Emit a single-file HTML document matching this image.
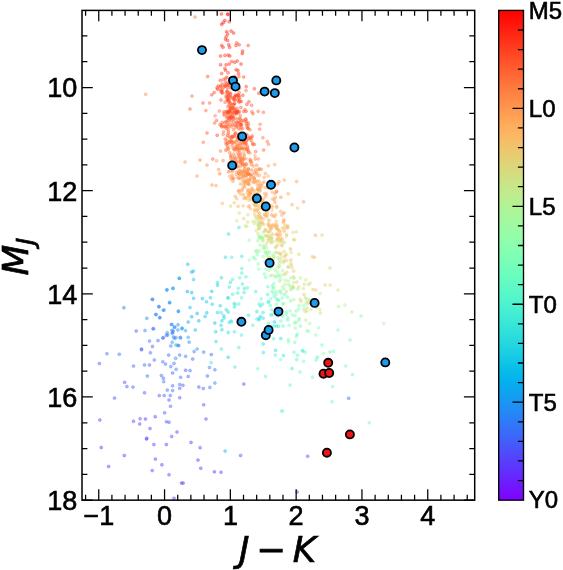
<!DOCTYPE html>
<html lang="en"><head><meta charset="utf-8"><title>MJ vs J-K colour-magnitude diagram</title>
<style>html,body{margin:0;padding:0;background:#fff;}svg{display:block;}text{font-family:"Liberation Sans",Arial,Helvetica,sans-serif;fill:#000;stroke:#000;stroke-width:0.6px;}.dv text{font-family:"DejaVu Sans","Liberation Sans",sans-serif;stroke-width:0.7px;}</style></head><body>
<svg width="563" height="570" viewBox="0 0 563 570">
<rect width="563" height="570" fill="#fff"/>
<defs><linearGradient id="cb" x1="0" y1="0" x2="0" y2="1"><stop offset="0.000" stop-color="#ff0000"/><stop offset="0.020" stop-color="#ff1008"/><stop offset="0.040" stop-color="#ff2010"/><stop offset="0.060" stop-color="#ff3018"/><stop offset="0.080" stop-color="#ff3f20"/><stop offset="0.100" stop-color="#ff4f28"/><stop offset="0.120" stop-color="#ff5e30"/><stop offset="0.140" stop-color="#ff6d38"/><stop offset="0.160" stop-color="#ff7b3f"/><stop offset="0.180" stop-color="#ff8947"/><stop offset="0.200" stop-color="#ff964f"/><stop offset="0.220" stop-color="#ffa356"/><stop offset="0.240" stop-color="#ffaf5e"/><stop offset="0.260" stop-color="#faba65"/><stop offset="0.280" stop-color="#f0c46d"/><stop offset="0.300" stop-color="#e5ce74"/><stop offset="0.320" stop-color="#dbd77b"/><stop offset="0.340" stop-color="#d1df82"/><stop offset="0.360" stop-color="#c7e789"/><stop offset="0.380" stop-color="#bded8f"/><stop offset="0.400" stop-color="#b2f396"/><stop offset="0.420" stop-color="#a8f79c"/><stop offset="0.440" stop-color="#9efaa3"/><stop offset="0.460" stop-color="#94fda9"/><stop offset="0.480" stop-color="#8afeaf"/><stop offset="0.500" stop-color="#80ffb4"/><stop offset="0.520" stop-color="#75feba"/><stop offset="0.540" stop-color="#6bfdbf"/><stop offset="0.560" stop-color="#61fac4"/><stop offset="0.580" stop-color="#57f7c9"/><stop offset="0.600" stop-color="#4df3ce"/><stop offset="0.620" stop-color="#42edd3"/><stop offset="0.640" stop-color="#38e7d7"/><stop offset="0.660" stop-color="#2edfdb"/><stop offset="0.680" stop-color="#24d7df"/><stop offset="0.700" stop-color="#1acee3"/><stop offset="0.720" stop-color="#0fc4e7"/><stop offset="0.740" stop-color="#05baea"/><stop offset="0.760" stop-color="#05afed"/><stop offset="0.780" stop-color="#0fa3f0"/><stop offset="0.800" stop-color="#1a96f3"/><stop offset="0.820" stop-color="#2489f5"/><stop offset="0.840" stop-color="#2e7bf7"/><stop offset="0.860" stop-color="#386df9"/><stop offset="0.880" stop-color="#425efa"/><stop offset="0.900" stop-color="#4d4ffc"/><stop offset="0.920" stop-color="#573ffd"/><stop offset="0.940" stop-color="#6130fe"/><stop offset="0.960" stop-color="#6b20fe"/><stop offset="0.980" stop-color="#7510ff"/><stop offset="1.000" stop-color="#8000ff"/></linearGradient>
<filter id="soft" x="-5%" y="-5%" width="110%" height="110%"><feGaussianBlur stdDeviation="0.55"/></filter>
<clipPath id="ax"><rect x="82.0" y="10.4" width="392.7" height="489.75"/></clipPath></defs>
<g clip-path="url(#ax)"><g filter="url(#soft)" fill-opacity="0.42" stroke-opacity="0.42" stroke-width="0.7">
<circle cx="232.5" cy="116.9" r="1.5" fill="#ff4020" stroke="#ff4020"/>
<circle cx="235.1" cy="133.4" r="1.5" fill="#ff5229" stroke="#ff5229"/>
<circle cx="280.9" cy="197.2" r="1.5" fill="#ff8c49" stroke="#ff8c49"/>
<circle cx="217.5" cy="282.6" r="1.5" fill="#26d9de" stroke="#26d9de"/>
<circle cx="293.7" cy="282.5" r="1.5" fill="#cce385" stroke="#cce385"/>
<circle cx="222.3" cy="89.7" r="1.5" fill="#ff4a25" stroke="#ff4a25"/>
<circle cx="183.1" cy="483.1" r="1.5" fill="#622dfe" stroke="#622dfe"/>
<circle cx="258.8" cy="223.8" r="1.5" fill="#fbb965" stroke="#fbb965"/>
<circle cx="268.2" cy="219.4" r="1.5" fill="#dad97c" stroke="#dad97c"/>
<circle cx="225.5" cy="78.4" r="1.5" fill="#ff5129" stroke="#ff5129"/>
<circle cx="280.8" cy="338.5" r="1.5" fill="#29dbde" stroke="#29dbde"/>
<circle cx="259.7" cy="237.8" r="1.5" fill="#b0f498" stroke="#b0f498"/>
<circle cx="245.2" cy="225.8" r="1.5" fill="#c7e789" stroke="#c7e789"/>
<circle cx="228.1" cy="98.5" r="1.5" fill="#ff4824" stroke="#ff4824"/>
<circle cx="243.7" cy="142.4" r="1.5" fill="#ff8143" stroke="#ff8143"/>
<circle cx="238.2" cy="138.1" r="1.5" fill="#ff542b" stroke="#ff542b"/>
<circle cx="236.7" cy="220.8" r="1.5" fill="#c6e889" stroke="#c6e889"/>
<circle cx="169.0" cy="422.2" r="1.5" fill="#4c50fc" stroke="#4c50fc"/>
<circle cx="248.1" cy="128.4" r="1.5" fill="#ff4d27" stroke="#ff4d27"/>
<circle cx="232.9" cy="158.1" r="1.5" fill="#ff7c40" stroke="#ff7c40"/>
<circle cx="272.0" cy="210.5" r="1.5" fill="#e9cb72" stroke="#e9cb72"/>
<circle cx="218.6" cy="169.6" r="1.5" fill="#ff8b48" stroke="#ff8b48"/>
<circle cx="244.1" cy="292.4" r="1.5" fill="#39e7d7" stroke="#39e7d7"/>
<circle cx="222.3" cy="83.7" r="1.5" fill="#ff5f30" stroke="#ff5f30"/>
<circle cx="252.3" cy="135.9" r="1.5" fill="#ff542b" stroke="#ff542b"/>
<circle cx="163.3" cy="337.7" r="1.5" fill="#366ff9" stroke="#366ff9"/>
<circle cx="242.9" cy="180.9" r="1.5" fill="#ff9b52" stroke="#ff9b52"/>
<circle cx="265.2" cy="229.6" r="1.5" fill="#faba65" stroke="#faba65"/>
<circle cx="262.5" cy="202.8" r="1.5" fill="#ffa859" stroke="#ffa859"/>
<circle cx="277.0" cy="299.2" r="1.5" fill="#48f0d1" stroke="#48f0d1"/>
<circle cx="260.6" cy="217.2" r="1.5" fill="#f1c36c" stroke="#f1c36c"/>
<circle cx="345.0" cy="305.0" r="1.5" fill="#b2f396" stroke="#b2f396"/>
<circle cx="185.5" cy="330.6" r="1.5" fill="#1799f2" stroke="#1799f2"/>
<circle cx="163.4" cy="378.2" r="1.5" fill="#4757fb" stroke="#4757fb"/>
<circle cx="254.4" cy="144.4" r="1.5" fill="#ff4f28" stroke="#ff4f28"/>
<circle cx="242.6" cy="165.0" r="1.5" fill="#ff6735" stroke="#ff6735"/>
<circle cx="234.4" cy="331.8" r="1.5" fill="#3be8d6" stroke="#3be8d6"/>
<circle cx="259.7" cy="129.1" r="1.5" fill="#ff5f30" stroke="#ff5f30"/>
<circle cx="231.0" cy="140.5" r="1.5" fill="#ff6f39" stroke="#ff6f39"/>
<circle cx="251.9" cy="111.7" r="1.5" fill="#ff562c" stroke="#ff562c"/>
<circle cx="234.4" cy="97.1" r="1.5" fill="#ff3b1e" stroke="#ff3b1e"/>
<circle cx="251.8" cy="188.3" r="1.5" fill="#ffa457" stroke="#ffa457"/>
<circle cx="288.4" cy="339.5" r="1.5" fill="#7dffb5" stroke="#7dffb5"/>
<circle cx="265.3" cy="235.8" r="1.5" fill="#cde385" stroke="#cde385"/>
<circle cx="280.7" cy="211.5" r="1.5" fill="#ff9c52" stroke="#ff9c52"/>
<circle cx="288.1" cy="267.1" r="1.5" fill="#f0c46c" stroke="#f0c46c"/>
<circle cx="263.4" cy="112.3" r="1.5" fill="#ff6333" stroke="#ff6333"/>
<circle cx="195.3" cy="330.0" r="1.5" fill="#02b7eb" stroke="#02b7eb"/>
<circle cx="275.3" cy="227.1" r="1.5" fill="#f4c069" stroke="#f4c069"/>
<circle cx="232.4" cy="145.6" r="1.5" fill="#ff6a36" stroke="#ff6a36"/>
<circle cx="267.7" cy="294.6" r="1.5" fill="#49f1d0" stroke="#49f1d0"/>
<circle cx="305.0" cy="311.3" r="1.5" fill="#e1d277" stroke="#e1d277"/>
<circle cx="307.5" cy="303.7" r="1.5" fill="#9cfba4" stroke="#9cfba4"/>
<circle cx="255.9" cy="218.3" r="1.5" fill="#c5e88a" stroke="#c5e88a"/>
<circle cx="259.5" cy="238.1" r="1.5" fill="#85ffb2" stroke="#85ffb2"/>
<circle cx="237.3" cy="125.6" r="1.5" fill="#ff5c2f" stroke="#ff5c2f"/>
<circle cx="214.6" cy="123.0" r="1.5" fill="#ff6031" stroke="#ff6031"/>
<circle cx="225.0" cy="102.2" r="1.5" fill="#ff6935" stroke="#ff6935"/>
<circle cx="248.4" cy="206.5" r="1.5" fill="#ffac5c" stroke="#ffac5c"/>
<circle cx="262.6" cy="200.2" r="1.5" fill="#ffa357" stroke="#ffa357"/>
<circle cx="263.1" cy="232.2" r="1.5" fill="#b5f194" stroke="#b5f194"/>
<circle cx="206.0" cy="419.0" r="1.5" fill="#4f4bfc" stroke="#4f4bfc"/>
<circle cx="303.5" cy="201.8" r="1.5" fill="#ff904b" stroke="#ff904b"/>
<circle cx="232.1" cy="117.0" r="1.5" fill="#ff6232" stroke="#ff6232"/>
<circle cx="332.0" cy="401.8" r="1.5" fill="#61fac4" stroke="#61fac4"/>
<circle cx="207.4" cy="375.9" r="1.5" fill="#3a6af9" stroke="#3a6af9"/>
<circle cx="167.8" cy="335.0" r="1.5" fill="#238af5" stroke="#238af5"/>
<circle cx="257.6" cy="181.0" r="1.5" fill="#ffa558" stroke="#ffa558"/>
<circle cx="259.6" cy="215.8" r="1.5" fill="#d7db7e" stroke="#d7db7e"/>
<circle cx="239.7" cy="148.4" r="1.5" fill="#ff8e4a" stroke="#ff8e4a"/>
<circle cx="174.9" cy="327.0" r="1.5" fill="#1c93f3" stroke="#1c93f3"/>
<circle cx="248.5" cy="172.9" r="1.5" fill="#ff8e4a" stroke="#ff8e4a"/>
<circle cx="281.8" cy="215.1" r="1.5" fill="#ffa558" stroke="#ffa558"/>
<circle cx="162.8" cy="337.9" r="1.5" fill="#3c67fa" stroke="#3c67fa"/>
<circle cx="259.2" cy="236.9" r="1.5" fill="#90feab" stroke="#90feab"/>
<circle cx="248.1" cy="128.2" r="1.5" fill="#ff6f39" stroke="#ff6f39"/>
<circle cx="263.6" cy="150.1" r="1.5" fill="#ff6232" stroke="#ff6232"/>
<circle cx="240.5" cy="183.9" r="1.5" fill="#ff9850" stroke="#ff9850"/>
<circle cx="294.0" cy="352.3" r="1.5" fill="#64fbc3" stroke="#64fbc3"/>
<circle cx="237.7" cy="292.9" r="1.5" fill="#3dead5" stroke="#3dead5"/>
<circle cx="229.1" cy="105.2" r="1.5" fill="#ff6433" stroke="#ff6433"/>
<circle cx="185.6" cy="370.2" r="1.5" fill="#4e4dfc" stroke="#4e4dfc"/>
<circle cx="232.8" cy="104.3" r="1.5" fill="#ff6031" stroke="#ff6031"/>
<circle cx="169.0" cy="400.0" r="1.5" fill="#4b51fc" stroke="#4b51fc"/>
<circle cx="247.3" cy="192.5" r="1.5" fill="#ffa759" stroke="#ffa759"/>
<circle cx="280.7" cy="238.3" r="1.5" fill="#fbb964" stroke="#fbb964"/>
<circle cx="242.3" cy="162.2" r="1.5" fill="#ff763d" stroke="#ff763d"/>
<circle cx="260.5" cy="187.2" r="1.5" fill="#ff954e" stroke="#ff954e"/>
<circle cx="242.1" cy="176.5" r="1.5" fill="#ff9850" stroke="#ff9850"/>
<circle cx="263.0" cy="256.6" r="1.5" fill="#9afca5" stroke="#9afca5"/>
<circle cx="227.6" cy="146.2" r="1.5" fill="#ff713a" stroke="#ff713a"/>
<circle cx="244.0" cy="148.6" r="1.5" fill="#ff753c" stroke="#ff753c"/>
<circle cx="144.5" cy="364.9" r="1.5" fill="#3d66fa" stroke="#3d66fa"/>
<circle cx="223.4" cy="22.4" r="1.5" fill="#ff170b" stroke="#ff170b"/>
<circle cx="246.2" cy="144.2" r="1.5" fill="#ff904c" stroke="#ff904c"/>
<circle cx="248.0" cy="169.8" r="1.5" fill="#ff934d" stroke="#ff934d"/>
<circle cx="159.8" cy="317.7" r="1.5" fill="#238af5" stroke="#238af5"/>
<circle cx="352.4" cy="374.5" r="1.5" fill="#66fcc2" stroke="#66fcc2"/>
<circle cx="369.3" cy="422.7" r="1.5" fill="#6bfdbf" stroke="#6bfdbf"/>
<circle cx="231.7" cy="321.7" r="1.5" fill="#3be9d6" stroke="#3be9d6"/>
<circle cx="247.9" cy="190.6" r="1.5" fill="#ffb05f" stroke="#ffb05f"/>
<circle cx="241.9" cy="163.4" r="1.5" fill="#ff6131" stroke="#ff6131"/>
<circle cx="233.7" cy="99.5" r="1.5" fill="#ff4121" stroke="#ff4121"/>
<circle cx="240.0" cy="152.9" r="1.5" fill="#ff793e" stroke="#ff793e"/>
<circle cx="238.4" cy="190.7" r="1.5" fill="#ff8a48" stroke="#ff8a48"/>
<circle cx="286.2" cy="314.2" r="1.5" fill="#6ffebd" stroke="#6ffebd"/>
<circle cx="241.9" cy="148.6" r="1.5" fill="#ff8646" stroke="#ff8646"/>
<circle cx="239.7" cy="170.5" r="1.5" fill="#ff713a" stroke="#ff713a"/>
<circle cx="254.8" cy="210.8" r="1.5" fill="#ffb160" stroke="#ffb160"/>
<circle cx="270.3" cy="275.7" r="1.5" fill="#a6f89e" stroke="#a6f89e"/>
<circle cx="311.9" cy="299.9" r="1.5" fill="#cfe183" stroke="#cfe183"/>
<circle cx="290.0" cy="385.0" r="1.5" fill="#61fac4" stroke="#61fac4"/>
<circle cx="269.8" cy="332.2" r="1.5" fill="#2edfdc" stroke="#2edfdc"/>
<circle cx="228.2" cy="133.5" r="1.5" fill="#ff6232" stroke="#ff6232"/>
<circle cx="231.1" cy="80.1" r="1.5" fill="#ff2b15" stroke="#ff2b15"/>
<circle cx="238.4" cy="155.1" r="1.5" fill="#ff562c" stroke="#ff562c"/>
<circle cx="255.0" cy="155.7" r="1.5" fill="#ffa156" stroke="#ffa156"/>
<circle cx="286.8" cy="272.3" r="1.5" fill="#e1d277" stroke="#e1d277"/>
<circle cx="290.8" cy="263.8" r="1.5" fill="#eec66e" stroke="#eec66e"/>
<circle cx="198.0" cy="460.1" r="1.5" fill="#6629fe" stroke="#6629fe"/>
<circle cx="228.0" cy="85.2" r="1.5" fill="#ff5b2e" stroke="#ff5b2e"/>
<circle cx="233.5" cy="129.6" r="1.5" fill="#ff6232" stroke="#ff6232"/>
<circle cx="259.1" cy="303.9" r="1.5" fill="#48f0d0" stroke="#48f0d0"/>
<circle cx="238.8" cy="303.9" r="1.5" fill="#4af1cf" stroke="#4af1cf"/>
<circle cx="221.4" cy="348.9" r="1.5" fill="#38e7d7" stroke="#38e7d7"/>
<circle cx="280.6" cy="359.5" r="1.5" fill="#6bfdbf" stroke="#6bfdbf"/>
<circle cx="232.2" cy="142.0" r="1.5" fill="#ff7f42" stroke="#ff7f42"/>
<circle cx="246.9" cy="172.4" r="1.5" fill="#ff8a48" stroke="#ff8a48"/>
<circle cx="269.0" cy="184.6" r="1.5" fill="#ff924c" stroke="#ff924c"/>
<circle cx="244.3" cy="164.2" r="1.5" fill="#ff8746" stroke="#ff8746"/>
<circle cx="236.4" cy="146.6" r="1.5" fill="#ff7d41" stroke="#ff7d41"/>
<circle cx="292.0" cy="368.5" r="1.5" fill="#39e7d7" stroke="#39e7d7"/>
<circle cx="224.6" cy="85.5" r="1.5" fill="#ff592d" stroke="#ff592d"/>
<circle cx="237.1" cy="144.7" r="1.5" fill="#ff733b" stroke="#ff733b"/>
<circle cx="279.2" cy="263.5" r="1.5" fill="#b3f296" stroke="#b3f296"/>
<circle cx="166.9" cy="289.7" r="1.5" fill="#2587f5" stroke="#2587f5"/>
<circle cx="241.4" cy="158.9" r="1.5" fill="#ff7f42" stroke="#ff7f42"/>
<circle cx="236.3" cy="122.5" r="1.5" fill="#ff4222" stroke="#ff4222"/>
<circle cx="229.5" cy="142.7" r="1.5" fill="#ff6131" stroke="#ff6131"/>
<circle cx="290.5" cy="248.9" r="1.5" fill="#ffa457" stroke="#ffa457"/>
<circle cx="332.6" cy="386.5" r="1.5" fill="#66fcc2" stroke="#66fcc2"/>
<circle cx="279.5" cy="230.5" r="1.5" fill="#feb562" stroke="#feb562"/>
<circle cx="266.0" cy="269.2" r="1.5" fill="#83ffb2" stroke="#83ffb2"/>
<circle cx="230.5" cy="164.9" r="1.5" fill="#ff713a" stroke="#ff713a"/>
<circle cx="246.7" cy="140.8" r="1.5" fill="#ff4422" stroke="#ff4422"/>
<circle cx="234.4" cy="150.0" r="1.5" fill="#ff6634" stroke="#ff6634"/>
<circle cx="282.2" cy="245.7" r="1.5" fill="#fab965" stroke="#fab965"/>
<circle cx="259.3" cy="225.0" r="1.5" fill="#d3de81" stroke="#d3de81"/>
<circle cx="206.5" cy="301.8" r="1.5" fill="#0cc1e8" stroke="#0cc1e8"/>
<circle cx="234.7" cy="112.0" r="1.5" fill="#ff6d38" stroke="#ff6d38"/>
<circle cx="223.2" cy="134.3" r="1.5" fill="#ff6d38" stroke="#ff6d38"/>
<circle cx="272.3" cy="207.2" r="1.5" fill="#ffa156" stroke="#ffa156"/>
<circle cx="226.1" cy="96.1" r="1.5" fill="#ff4b26" stroke="#ff4b26"/>
<circle cx="298.9" cy="254.2" r="1.5" fill="#e5cf74" stroke="#e5cf74"/>
<circle cx="202.4" cy="298.6" r="1.5" fill="#06bbea" stroke="#06bbea"/>
<circle cx="235.0" cy="96.6" r="1.5" fill="#ff3d1f" stroke="#ff3d1f"/>
<circle cx="233.3" cy="112.6" r="1.5" fill="#ff4121" stroke="#ff4121"/>
<circle cx="124.3" cy="455.5" r="1.5" fill="#652afe" stroke="#652afe"/>
<circle cx="124.6" cy="382.3" r="1.5" fill="#5247fc" stroke="#5247fc"/>
<circle cx="252.7" cy="197.9" r="1.5" fill="#ff9951" stroke="#ff9951"/>
<circle cx="250.6" cy="161.8" r="1.5" fill="#ff7f42" stroke="#ff7f42"/>
<circle cx="243.8" cy="171.5" r="1.5" fill="#ff8143" stroke="#ff8143"/>
<circle cx="239.2" cy="92.5" r="1.5" fill="#ff4d27" stroke="#ff4d27"/>
<circle cx="269.1" cy="270.3" r="1.5" fill="#9cfba4" stroke="#9cfba4"/>
<circle cx="260.1" cy="245.2" r="1.5" fill="#a9f79c" stroke="#a9f79c"/>
<circle cx="239.3" cy="111.6" r="1.5" fill="#ff4623" stroke="#ff4623"/>
<circle cx="288.2" cy="266.7" r="1.5" fill="#bbee90" stroke="#bbee90"/>
<circle cx="230.8" cy="156.8" r="1.5" fill="#ff793f" stroke="#ff793f"/>
<circle cx="257.0" cy="193.8" r="1.5" fill="#ffa658" stroke="#ffa658"/>
<circle cx="119.3" cy="354.2" r="1.5" fill="#3a6af9" stroke="#3a6af9"/>
<circle cx="306.7" cy="311.1" r="1.5" fill="#d1e082" stroke="#d1e082"/>
<circle cx="287.9" cy="227.8" r="1.5" fill="#faba65" stroke="#faba65"/>
<circle cx="259.4" cy="236.6" r="1.5" fill="#a3f9a0" stroke="#a3f9a0"/>
<circle cx="310.2" cy="282.9" r="1.5" fill="#b6f193" stroke="#b6f193"/>
<circle cx="265.8" cy="216.2" r="1.5" fill="#ffa156" stroke="#ffa156"/>
<circle cx="243.5" cy="173.2" r="1.5" fill="#ff904b" stroke="#ff904b"/>
<circle cx="281.5" cy="411.0" r="1.5" fill="#66fcc2" stroke="#66fcc2"/>
<circle cx="259.3" cy="169.0" r="1.5" fill="#ff8847" stroke="#ff8847"/>
<circle cx="290.1" cy="310.9" r="1.5" fill="#85ffb1" stroke="#85ffb1"/>
<circle cx="240.6" cy="160.6" r="1.5" fill="#ff793e" stroke="#ff793e"/>
<circle cx="247.8" cy="135.9" r="1.5" fill="#ff6c37" stroke="#ff6c37"/>
<circle cx="167.1" cy="332.7" r="1.5" fill="#2a80f6" stroke="#2a80f6"/>
<circle cx="284.1" cy="231.1" r="1.5" fill="#ffa156" stroke="#ffa156"/>
<circle cx="244.3" cy="288.5" r="1.5" fill="#39e7d7" stroke="#39e7d7"/>
<circle cx="292.6" cy="287.0" r="1.5" fill="#bded8f" stroke="#bded8f"/>
<circle cx="181.5" cy="483.1" r="1.5" fill="#652afe" stroke="#652afe"/>
<circle cx="251.0" cy="194.7" r="1.5" fill="#f8bc67" stroke="#f8bc67"/>
<circle cx="243.1" cy="205.8" r="1.5" fill="#f8bb66" stroke="#f8bb66"/>
<circle cx="277.3" cy="233.9" r="1.5" fill="#ffb462" stroke="#ffb462"/>
<circle cx="293.6" cy="287.7" r="1.5" fill="#dbd77b" stroke="#dbd77b"/>
<circle cx="305.2" cy="352.2" r="1.5" fill="#68fcc1" stroke="#68fcc1"/>
<circle cx="296.1" cy="311.0" r="1.5" fill="#7affb7" stroke="#7affb7"/>
<circle cx="161.9" cy="464.8" r="1.5" fill="#6529fe" stroke="#6529fe"/>
<circle cx="274.6" cy="326.0" r="1.5" fill="#41edd3" stroke="#41edd3"/>
<circle cx="286.8" cy="260.5" r="1.5" fill="#ecc86f" stroke="#ecc86f"/>
<circle cx="245.5" cy="144.2" r="1.5" fill="#ff8143" stroke="#ff8143"/>
<circle cx="234.8" cy="100.2" r="1.5" fill="#ff351b" stroke="#ff351b"/>
<circle cx="236.6" cy="126.0" r="1.5" fill="#ff5a2e" stroke="#ff5a2e"/>
<circle cx="234.2" cy="115.4" r="1.5" fill="#ff6634" stroke="#ff6634"/>
<circle cx="216.5" cy="160.7" r="1.5" fill="#ff974f" stroke="#ff974f"/>
<circle cx="228.0" cy="72.8" r="1.5" fill="#ff3f20" stroke="#ff3f20"/>
<circle cx="246.5" cy="164.3" r="1.5" fill="#ff6b37" stroke="#ff6b37"/>
<circle cx="219.8" cy="173.7" r="1.5" fill="#ff733b" stroke="#ff733b"/>
<circle cx="178.8" cy="345.6" r="1.5" fill="#2e7bf7" stroke="#2e7bf7"/>
<circle cx="207.0" cy="165.0" r="1.5" fill="#ff8947" stroke="#ff8947"/>
<circle cx="170.5" cy="406.3" r="1.5" fill="#445cfb" stroke="#445cfb"/>
<circle cx="276.0" cy="291.7" r="1.5" fill="#81ffb4" stroke="#81ffb4"/>
<circle cx="230.7" cy="104.1" r="1.5" fill="#ff4d27" stroke="#ff4d27"/>
<circle cx="243.1" cy="159.2" r="1.5" fill="#ff8a48" stroke="#ff8a48"/>
<circle cx="264.6" cy="214.5" r="1.5" fill="#ff8a48" stroke="#ff8a48"/>
<circle cx="229.4" cy="136.8" r="1.5" fill="#ff8e4a" stroke="#ff8e4a"/>
<circle cx="226.4" cy="97.7" r="1.5" fill="#ff5c2f" stroke="#ff5c2f"/>
<circle cx="320.2" cy="293.4" r="1.5" fill="#c4e98b" stroke="#c4e98b"/>
<circle cx="256.4" cy="173.7" r="1.5" fill="#ffa256" stroke="#ffa256"/>
<circle cx="236.5" cy="86.7" r="1.5" fill="#ff3a1d" stroke="#ff3a1d"/>
<circle cx="258.8" cy="93.2" r="1.5" fill="#ff4623" stroke="#ff4623"/>
<circle cx="269.3" cy="220.8" r="1.5" fill="#f7bd67" stroke="#f7bd67"/>
<circle cx="239.0" cy="136.2" r="1.5" fill="#ff4b26" stroke="#ff4b26"/>
<circle cx="292.2" cy="314.8" r="1.5" fill="#83ffb3" stroke="#83ffb3"/>
<circle cx="152.7" cy="299.5" r="1.5" fill="#3571f8" stroke="#3571f8"/>
<circle cx="270.5" cy="237.0" r="1.5" fill="#e5cf74" stroke="#e5cf74"/>
<circle cx="269.7" cy="227.5" r="1.5" fill="#ffaf5e" stroke="#ffaf5e"/>
<circle cx="250.5" cy="192.7" r="1.5" fill="#ffa95b" stroke="#ffa95b"/>
<circle cx="257.2" cy="254.6" r="1.5" fill="#77ffb9" stroke="#77ffb9"/>
<circle cx="278.3" cy="274.9" r="1.5" fill="#94fda9" stroke="#94fda9"/>
<circle cx="224.8" cy="122.7" r="1.5" fill="#ff552b" stroke="#ff552b"/>
<circle cx="276.0" cy="276.7" r="1.5" fill="#83ffb2" stroke="#83ffb2"/>
<circle cx="260.6" cy="202.2" r="1.5" fill="#ff944e" stroke="#ff944e"/>
<circle cx="211.8" cy="94.8" r="1.5" fill="#ff4121" stroke="#ff4121"/>
<circle cx="281.3" cy="293.6" r="1.5" fill="#8ffeab" stroke="#8ffeab"/>
<circle cx="173.1" cy="288.3" r="1.5" fill="#1898f2" stroke="#1898f2"/>
<circle cx="232.8" cy="81.5" r="1.5" fill="#ff391d" stroke="#ff391d"/>
<circle cx="245.7" cy="119.6" r="1.5" fill="#ff5b2e" stroke="#ff5b2e"/>
<circle cx="226.3" cy="309.7" r="1.5" fill="#1fd3e1" stroke="#1fd3e1"/>
<circle cx="221.7" cy="45.4" r="1.5" fill="#ff2512" stroke="#ff2512"/>
<circle cx="228.1" cy="93.7" r="1.5" fill="#ff381c" stroke="#ff381c"/>
<circle cx="224.0" cy="113.7" r="1.5" fill="#ff592d" stroke="#ff592d"/>
<circle cx="190.0" cy="109.0" r="1.5" fill="#ff5e30" stroke="#ff5e30"/>
<circle cx="264.8" cy="261.5" r="1.5" fill="#97fca7" stroke="#97fca7"/>
<circle cx="262.3" cy="222.5" r="1.5" fill="#f7bd68" stroke="#f7bd68"/>
<circle cx="338.0" cy="330.0" r="1.5" fill="#80ffb4" stroke="#80ffb4"/>
<circle cx="164.6" cy="412.8" r="1.5" fill="#445bfb" stroke="#445bfb"/>
<circle cx="276.0" cy="247.1" r="1.5" fill="#d9d97d" stroke="#d9d97d"/>
<circle cx="350.0" cy="340.0" r="1.5" fill="#75feba" stroke="#75feba"/>
<circle cx="238.8" cy="128.6" r="1.5" fill="#ff4e28" stroke="#ff4e28"/>
<circle cx="106.9" cy="353.7" r="1.5" fill="#3d66fa" stroke="#3d66fa"/>
<circle cx="307.7" cy="456.2" r="1.5" fill="#5149fc" stroke="#5149fc"/>
<circle cx="226.5" cy="84.1" r="1.5" fill="#ff4d27" stroke="#ff4d27"/>
<circle cx="250.5" cy="199.1" r="1.5" fill="#ffa256" stroke="#ffa256"/>
<circle cx="250.0" cy="191.5" r="1.5" fill="#ff9d53" stroke="#ff9d53"/>
<circle cx="260.0" cy="199.2" r="1.5" fill="#ff934d" stroke="#ff934d"/>
<circle cx="310.7" cy="300.3" r="1.5" fill="#cee284" stroke="#cee284"/>
<circle cx="245.9" cy="164.1" r="1.5" fill="#ff8545" stroke="#ff8545"/>
<circle cx="228.2" cy="332.4" r="1.5" fill="#27dade" stroke="#27dade"/>
<circle cx="294.0" cy="278.3" r="1.5" fill="#95fda8" stroke="#95fda8"/>
<circle cx="262.0" cy="237.5" r="1.5" fill="#b2f396" stroke="#b2f396"/>
<circle cx="227.1" cy="140.5" r="1.5" fill="#ff6f39" stroke="#ff6f39"/>
<circle cx="168.7" cy="355.1" r="1.5" fill="#3e64fa" stroke="#3e64fa"/>
<circle cx="276.5" cy="234.6" r="1.5" fill="#ffa95b" stroke="#ffa95b"/>
<circle cx="278.5" cy="300.0" r="1.5" fill="#75feba" stroke="#75feba"/>
<circle cx="238.1" cy="206.3" r="1.5" fill="#ffae5d" stroke="#ffae5d"/>
<circle cx="254.4" cy="214.1" r="1.5" fill="#dfd478" stroke="#dfd478"/>
<circle cx="265.6" cy="230.2" r="1.5" fill="#ebc970" stroke="#ebc970"/>
<circle cx="237.3" cy="61.0" r="1.5" fill="#ff2d17" stroke="#ff2d17"/>
<circle cx="286.7" cy="227.9" r="1.5" fill="#f0c46c" stroke="#f0c46c"/>
<circle cx="236.2" cy="162.3" r="1.5" fill="#ff7f41" stroke="#ff7f41"/>
<circle cx="288.2" cy="193.8" r="1.5" fill="#ffa256" stroke="#ffa256"/>
<circle cx="241.3" cy="147.8" r="1.5" fill="#ff7d41" stroke="#ff7d41"/>
<circle cx="234.8" cy="76.7" r="1.5" fill="#ff341a" stroke="#ff341a"/>
<circle cx="288.3" cy="281.0" r="1.5" fill="#8efeac" stroke="#8efeac"/>
<circle cx="230.7" cy="206.1" r="1.5" fill="#e6cd73" stroke="#e6cd73"/>
<circle cx="237.5" cy="147.9" r="1.5" fill="#ff6c38" stroke="#ff6c38"/>
<circle cx="247.4" cy="127.9" r="1.5" fill="#ff6f39" stroke="#ff6f39"/>
<circle cx="246.5" cy="149.5" r="1.5" fill="#ff7c40" stroke="#ff7c40"/>
<circle cx="271.8" cy="238.1" r="1.5" fill="#e0d478" stroke="#e0d478"/>
<circle cx="228.5" cy="126.7" r="1.5" fill="#ff6f39" stroke="#ff6f39"/>
<circle cx="330.1" cy="285.1" r="1.5" fill="#d8da7d" stroke="#d8da7d"/>
<circle cx="288.5" cy="341.7" r="1.5" fill="#74feba" stroke="#74feba"/>
<circle cx="257.9" cy="208.9" r="1.5" fill="#edc86f" stroke="#edc86f"/>
<circle cx="243.3" cy="164.5" r="1.5" fill="#ff7a3f" stroke="#ff7a3f"/>
<circle cx="133.5" cy="421.3" r="1.5" fill="#5a3bfd" stroke="#5a3bfd"/>
<circle cx="234.5" cy="98.9" r="1.5" fill="#ff6232" stroke="#ff6232"/>
<circle cx="322.0" cy="345.0" r="1.5" fill="#70febd" stroke="#70febd"/>
<circle cx="244.0" cy="198.2" r="1.5" fill="#ff9d53" stroke="#ff9d53"/>
<circle cx="271.1" cy="238.2" r="1.5" fill="#d9d97d" stroke="#d9d97d"/>
<circle cx="269.3" cy="235.8" r="1.5" fill="#d0e183" stroke="#d0e183"/>
<circle cx="245.7" cy="198.2" r="1.5" fill="#f7bd67" stroke="#f7bd67"/>
<circle cx="236.0" cy="45.4" r="1.5" fill="#ff2c16" stroke="#ff2c16"/>
<circle cx="249.4" cy="174.3" r="1.5" fill="#ff8e4a" stroke="#ff8e4a"/>
<circle cx="257.5" cy="209.5" r="1.5" fill="#fbb964" stroke="#fbb964"/>
<circle cx="284.0" cy="251.4" r="1.5" fill="#e8cc72" stroke="#e8cc72"/>
<circle cx="217.5" cy="312.5" r="1.5" fill="#1bd0e3" stroke="#1bd0e3"/>
<circle cx="145.4" cy="419.0" r="1.5" fill="#6629fe" stroke="#6629fe"/>
<circle cx="234.9" cy="134.7" r="1.5" fill="#ff6835" stroke="#ff6835"/>
<circle cx="209.9" cy="387.4" r="1.5" fill="#3b68f9" stroke="#3b68f9"/>
<circle cx="273.7" cy="338.8" r="1.5" fill="#4cf2cf" stroke="#4cf2cf"/>
<circle cx="263.1" cy="239.9" r="1.5" fill="#c5e88a" stroke="#c5e88a"/>
<circle cx="233.2" cy="148.4" r="1.5" fill="#ff6534" stroke="#ff6534"/>
<circle cx="267.4" cy="203.1" r="1.5" fill="#ffb05f" stroke="#ffb05f"/>
<circle cx="256.2" cy="230.8" r="1.5" fill="#cde285" stroke="#cde285"/>
<circle cx="325.2" cy="284.9" r="1.5" fill="#e9cb72" stroke="#e9cb72"/>
<circle cx="159.3" cy="395.6" r="1.5" fill="#4757fb" stroke="#4757fb"/>
<circle cx="237.8" cy="100.0" r="1.5" fill="#ff4724" stroke="#ff4724"/>
<circle cx="283.8" cy="303.6" r="1.5" fill="#6cfdbf" stroke="#6cfdbf"/>
<circle cx="226.2" cy="121.4" r="1.5" fill="#ff4221" stroke="#ff4221"/>
<circle cx="153.9" cy="444.5" r="1.5" fill="#5e35fe" stroke="#5e35fe"/>
<circle cx="271.7" cy="326.2" r="1.5" fill="#3be9d6" stroke="#3be9d6"/>
<circle cx="309.1" cy="300.1" r="1.5" fill="#c8e688" stroke="#c8e688"/>
<circle cx="221.9" cy="320.8" r="1.5" fill="#15cae5" stroke="#15cae5"/>
<circle cx="244.7" cy="169.8" r="1.5" fill="#ff8646" stroke="#ff8646"/>
<circle cx="278.4" cy="235.3" r="1.5" fill="#ffa658" stroke="#ffa658"/>
<circle cx="270.6" cy="229.0" r="1.5" fill="#f1c36c" stroke="#f1c36c"/>
<circle cx="290.8" cy="277.7" r="1.5" fill="#b7f093" stroke="#b7f093"/>
<circle cx="189.1" cy="342.1" r="1.5" fill="#2883f6" stroke="#2883f6"/>
<circle cx="179.7" cy="397.7" r="1.5" fill="#5246fd" stroke="#5246fd"/>
<circle cx="230.2" cy="118.7" r="1.5" fill="#ff5e30" stroke="#ff5e30"/>
<circle cx="218.2" cy="86.0" r="1.5" fill="#ff3e1f" stroke="#ff3e1f"/>
<circle cx="244.1" cy="158.7" r="1.5" fill="#ff8042" stroke="#ff8042"/>
<circle cx="243.6" cy="194.7" r="1.5" fill="#ff9b52" stroke="#ff9b52"/>
<circle cx="241.8" cy="256.3" r="1.5" fill="#36e5d8" stroke="#36e5d8"/>
<circle cx="255.5" cy="205.9" r="1.5" fill="#ffb15f" stroke="#ffb15f"/>
<circle cx="308.5" cy="331.4" r="1.5" fill="#9afca5" stroke="#9afca5"/>
<circle cx="223.6" cy="131.6" r="1.5" fill="#ff763d" stroke="#ff763d"/>
<circle cx="313.0" cy="289.6" r="1.5" fill="#eec66e" stroke="#eec66e"/>
<circle cx="251.0" cy="138.1" r="1.5" fill="#ff522a" stroke="#ff522a"/>
<circle cx="300.0" cy="372.0" r="1.5" fill="#66fcc2" stroke="#66fcc2"/>
<circle cx="150.0" cy="428.5" r="1.5" fill="#593bfd" stroke="#593bfd"/>
<circle cx="249.0" cy="200.3" r="1.5" fill="#ffb361" stroke="#ffb361"/>
<circle cx="315.9" cy="334.9" r="1.5" fill="#93fda9" stroke="#93fda9"/>
<circle cx="223.5" cy="79.5" r="1.5" fill="#ff4423" stroke="#ff4423"/>
<circle cx="257.0" cy="196.3" r="1.5" fill="#ffaf5e" stroke="#ffaf5e"/>
<circle cx="236.9" cy="119.0" r="1.5" fill="#ff4d27" stroke="#ff4d27"/>
<circle cx="235.8" cy="113.0" r="1.5" fill="#ff6c37" stroke="#ff6c37"/>
<circle cx="235.3" cy="304.6" r="1.5" fill="#44eed2" stroke="#44eed2"/>
<circle cx="333.5" cy="351.3" r="1.5" fill="#6efebe" stroke="#6efebe"/>
<circle cx="177.9" cy="329.9" r="1.5" fill="#1a95f3" stroke="#1a95f3"/>
<circle cx="291.0" cy="288.9" r="1.5" fill="#a6f89e" stroke="#a6f89e"/>
<circle cx="260.6" cy="207.9" r="1.5" fill="#f5c069" stroke="#f5c069"/>
<circle cx="230.8" cy="113.9" r="1.5" fill="#ff6031" stroke="#ff6031"/>
<circle cx="260.6" cy="305.9" r="1.5" fill="#33e3da" stroke="#33e3da"/>
<circle cx="236.7" cy="42.9" r="1.5" fill="#ff391d" stroke="#ff391d"/>
<circle cx="243.6" cy="184.3" r="1.5" fill="#ffae5d" stroke="#ffae5d"/>
<circle cx="258.0" cy="193.0" r="1.5" fill="#f5bf68" stroke="#f5bf68"/>
<circle cx="270.2" cy="305.4" r="1.5" fill="#52f5cc" stroke="#52f5cc"/>
<circle cx="172.6" cy="385.8" r="1.5" fill="#455afb" stroke="#455afb"/>
<circle cx="253.0" cy="113.7" r="1.5" fill="#ff5a2e" stroke="#ff5a2e"/>
<circle cx="265.8" cy="277.3" r="1.5" fill="#6efdbe" stroke="#6efdbe"/>
<circle cx="234.2" cy="81.7" r="1.5" fill="#ff532a" stroke="#ff532a"/>
<circle cx="293.6" cy="239.6" r="1.5" fill="#dad87c" stroke="#dad87c"/>
<circle cx="277.1" cy="224.8" r="1.5" fill="#f9bb66" stroke="#f9bb66"/>
<circle cx="207.0" cy="133.0" r="1.5" fill="#ff5e30" stroke="#ff5e30"/>
<circle cx="279.3" cy="281.2" r="1.5" fill="#99fca6" stroke="#99fca6"/>
<circle cx="239.6" cy="136.5" r="1.5" fill="#ff7d41" stroke="#ff7d41"/>
<circle cx="271.4" cy="238.1" r="1.5" fill="#cde385" stroke="#cde385"/>
<circle cx="249.3" cy="196.3" r="1.5" fill="#ffa155" stroke="#ffa155"/>
<circle cx="167.3" cy="390.1" r="1.5" fill="#3f62fa" stroke="#3f62fa"/>
<circle cx="211.3" cy="354.6" r="1.5" fill="#415ffa" stroke="#415ffa"/>
<circle cx="243.5" cy="121.0" r="1.5" fill="#ff6433" stroke="#ff6433"/>
<circle cx="278.8" cy="242.1" r="1.5" fill="#bcee90" stroke="#bcee90"/>
<circle cx="230.1" cy="117.9" r="1.5" fill="#ff5b2e" stroke="#ff5b2e"/>
<circle cx="295.0" cy="315.4" r="1.5" fill="#7effb5" stroke="#7effb5"/>
<circle cx="234.3" cy="163.4" r="1.5" fill="#ff8a48" stroke="#ff8a48"/>
<circle cx="234.7" cy="156.4" r="1.5" fill="#ff743c" stroke="#ff743c"/>
<circle cx="226.6" cy="126.2" r="1.5" fill="#ff582d" stroke="#ff582d"/>
<circle cx="241.0" cy="64.1" r="1.5" fill="#ff2c16" stroke="#ff2c16"/>
<circle cx="248.9" cy="101.8" r="1.5" fill="#ff4121" stroke="#ff4121"/>
<circle cx="221.9" cy="329.7" r="1.5" fill="#1dd2e2" stroke="#1dd2e2"/>
<circle cx="163.7" cy="381.7" r="1.5" fill="#3078f7" stroke="#3078f7"/>
<circle cx="234.4" cy="104.0" r="1.5" fill="#ff6835" stroke="#ff6835"/>
<circle cx="229.4" cy="286.9" r="1.5" fill="#37e6d8" stroke="#37e6d8"/>
<circle cx="224.9" cy="55.4" r="1.5" fill="#ff351b" stroke="#ff351b"/>
<circle cx="225.5" cy="39.2" r="1.5" fill="#ff1b0e" stroke="#ff1b0e"/>
<circle cx="284.5" cy="242.4" r="1.5" fill="#d1e082" stroke="#d1e082"/>
<circle cx="217.2" cy="135.2" r="1.5" fill="#ff3d1e" stroke="#ff3d1e"/>
<circle cx="247.6" cy="174.5" r="1.5" fill="#ff6e38" stroke="#ff6e38"/>
<circle cx="311.0" cy="309.5" r="1.5" fill="#d5dc7f" stroke="#d5dc7f"/>
<circle cx="266.5" cy="193.7" r="1.5" fill="#ffaa5b" stroke="#ffaa5b"/>
<circle cx="255.5" cy="250.9" r="1.5" fill="#a4f99f" stroke="#a4f99f"/>
<circle cx="220.5" cy="151.1" r="1.5" fill="#ff773d" stroke="#ff773d"/>
<circle cx="224.0" cy="111.8" r="1.5" fill="#ff3d1f" stroke="#ff3d1f"/>
<circle cx="229.4" cy="101.6" r="1.5" fill="#ff3f20" stroke="#ff3f20"/>
<circle cx="263.5" cy="224.5" r="1.5" fill="#f5bf69" stroke="#f5bf69"/>
<circle cx="257.3" cy="189.6" r="1.5" fill="#f9bb66" stroke="#f9bb66"/>
<circle cx="235.8" cy="161.2" r="1.5" fill="#ff8847" stroke="#ff8847"/>
<circle cx="246.0" cy="90.5" r="1.5" fill="#ff6634" stroke="#ff6634"/>
<circle cx="302.3" cy="350.6" r="1.5" fill="#55f6ca" stroke="#55f6ca"/>
<circle cx="172.9" cy="288.5" r="1.5" fill="#0ba8ef" stroke="#0ba8ef"/>
<circle cx="228.8" cy="44.8" r="1.5" fill="#ff1a0d" stroke="#ff1a0d"/>
<circle cx="301.1" cy="301.4" r="1.5" fill="#dfd478" stroke="#dfd478"/>
<circle cx="236.2" cy="164.1" r="1.5" fill="#ff7d40" stroke="#ff7d40"/>
<circle cx="136.2" cy="331.0" r="1.5" fill="#4658fb" stroke="#4658fb"/>
<circle cx="228.0" cy="55.1" r="1.5" fill="#ff331a" stroke="#ff331a"/>
<circle cx="290.0" cy="286.0" r="1.5" fill="#a2f9a0" stroke="#a2f9a0"/>
<circle cx="276.9" cy="252.6" r="1.5" fill="#cfe183" stroke="#cfe183"/>
<circle cx="197.0" cy="176.0" r="1.5" fill="#ff964f" stroke="#ff964f"/>
<circle cx="228.2" cy="311.9" r="1.5" fill="#1dd1e2" stroke="#1dd1e2"/>
<circle cx="191.7" cy="272.0" r="1.5" fill="#0ca6ef" stroke="#0ca6ef"/>
<circle cx="249.0" cy="179.2" r="1.5" fill="#ffa256" stroke="#ffa256"/>
<circle cx="114.5" cy="398.1" r="1.5" fill="#5444fd" stroke="#5444fd"/>
<circle cx="247.5" cy="146.3" r="1.5" fill="#ff743c" stroke="#ff743c"/>
<circle cx="220.5" cy="56.0" r="1.5" fill="#ff2a15" stroke="#ff2a15"/>
<circle cx="240.1" cy="119.0" r="1.5" fill="#ff5028" stroke="#ff5028"/>
<circle cx="227.6" cy="14.0" r="1.5" fill="#ff140a" stroke="#ff140a"/>
<circle cx="225.2" cy="139.1" r="1.5" fill="#ff532a" stroke="#ff532a"/>
<circle cx="231.3" cy="140.7" r="1.5" fill="#ff8b48" stroke="#ff8b48"/>
<circle cx="222.4" cy="92.9" r="1.5" fill="#ff1e0f" stroke="#ff1e0f"/>
<circle cx="181.9" cy="328.8" r="1.5" fill="#2785f6" stroke="#2785f6"/>
<circle cx="258.5" cy="218.8" r="1.5" fill="#f0c46c" stroke="#f0c46c"/>
<circle cx="282.2" cy="298.1" r="1.5" fill="#76ffb9" stroke="#76ffb9"/>
<circle cx="234.2" cy="202.8" r="1.5" fill="#e8cc72" stroke="#e8cc72"/>
<circle cx="273.2" cy="259.2" r="1.5" fill="#c3e98b" stroke="#c3e98b"/>
<circle cx="224.9" cy="68.4" r="1.5" fill="#ff3a1d" stroke="#ff3a1d"/>
<circle cx="223.8" cy="126.4" r="1.5" fill="#ff572c" stroke="#ff572c"/>
<circle cx="258.3" cy="216.6" r="1.5" fill="#e8cc72" stroke="#e8cc72"/>
<circle cx="232.5" cy="177.9" r="1.5" fill="#ff924c" stroke="#ff924c"/>
<circle cx="252.9" cy="181.5" r="1.5" fill="#ff944e" stroke="#ff944e"/>
<circle cx="294.6" cy="239.7" r="1.5" fill="#ddd679" stroke="#ddd679"/>
<circle cx="249.1" cy="240.3" r="1.5" fill="#8ffeab" stroke="#8ffeab"/>
<circle cx="179.3" cy="278.4" r="1.5" fill="#04b0ed" stroke="#04b0ed"/>
<circle cx="245.2" cy="180.9" r="1.5" fill="#ff9850" stroke="#ff9850"/>
<circle cx="221.7" cy="24.3" r="1.5" fill="#ff0804" stroke="#ff0804"/>
<circle cx="264.1" cy="210.0" r="1.5" fill="#dfd478" stroke="#dfd478"/>
<circle cx="268.7" cy="301.6" r="1.5" fill="#4af1d0" stroke="#4af1d0"/>
<circle cx="287.8" cy="319.9" r="1.5" fill="#6afdc0" stroke="#6afdc0"/>
<circle cx="247.3" cy="287.8" r="1.5" fill="#46efd1" stroke="#46efd1"/>
<circle cx="230.2" cy="137.4" r="1.5" fill="#ff6d38" stroke="#ff6d38"/>
<circle cx="225.1" cy="451.1" r="1.5" fill="#00b4ec" stroke="#00b4ec"/>
<circle cx="180.6" cy="338.0" r="1.5" fill="#2587f5" stroke="#2587f5"/>
<circle cx="264.6" cy="193.4" r="1.5" fill="#ffa156" stroke="#ffa156"/>
<circle cx="172.6" cy="372.9" r="1.5" fill="#4c50fc" stroke="#4c50fc"/>
<circle cx="241.7" cy="124.6" r="1.5" fill="#ff4b26" stroke="#ff4b26"/>
<circle cx="246.9" cy="104.2" r="1.5" fill="#ff4422" stroke="#ff4422"/>
<circle cx="155.7" cy="314.5" r="1.5" fill="#2c7df7" stroke="#2c7df7"/>
<circle cx="233.0" cy="108.0" r="1.5" fill="#ff5129" stroke="#ff5129"/>
<circle cx="256.3" cy="199.8" r="1.5" fill="#ffa659" stroke="#ffa659"/>
<circle cx="229.8" cy="152.7" r="1.5" fill="#ff723b" stroke="#ff723b"/>
<circle cx="259.6" cy="175.3" r="1.5" fill="#ffb260" stroke="#ffb260"/>
<circle cx="246.9" cy="198.0" r="1.5" fill="#feb663" stroke="#feb663"/>
<circle cx="170.8" cy="346.0" r="1.5" fill="#2f7af7" stroke="#2f7af7"/>
<circle cx="282.2" cy="238.9" r="1.5" fill="#feb662" stroke="#feb662"/>
<circle cx="254.4" cy="179.0" r="1.5" fill="#ff934d" stroke="#ff934d"/>
<circle cx="266.8" cy="242.9" r="1.5" fill="#cfe183" stroke="#cfe183"/>
<circle cx="246.1" cy="111.3" r="1.5" fill="#ff3f20" stroke="#ff3f20"/>
<circle cx="253.6" cy="196.4" r="1.5" fill="#ffa558" stroke="#ffa558"/>
<circle cx="230.7" cy="164.7" r="1.5" fill="#ff6131" stroke="#ff6131"/>
<circle cx="251.1" cy="174.4" r="1.5" fill="#ff8042" stroke="#ff8042"/>
<circle cx="296.4" cy="231.7" r="1.5" fill="#dbd77b" stroke="#dbd77b"/>
<circle cx="239.2" cy="122.6" r="1.5" fill="#ff6734" stroke="#ff6734"/>
<circle cx="263.9" cy="198.3" r="1.5" fill="#ffb15f" stroke="#ffb15f"/>
<circle cx="277.2" cy="245.3" r="1.5" fill="#faba66" stroke="#faba66"/>
<circle cx="248.3" cy="152.1" r="1.5" fill="#ff6f39" stroke="#ff6f39"/>
<circle cx="232.0" cy="107.5" r="1.5" fill="#ff4523" stroke="#ff4523"/>
<circle cx="285.0" cy="284.6" r="1.5" fill="#abf69b" stroke="#abf69b"/>
<circle cx="243.8" cy="384.0" r="1.5" fill="#4d4dfc" stroke="#4d4dfc"/>
<circle cx="383.8" cy="323.6" r="1.5" fill="#b0f498" stroke="#b0f498"/>
<circle cx="258.8" cy="189.7" r="1.5" fill="#ffb260" stroke="#ffb260"/>
<circle cx="288.5" cy="284.2" r="1.5" fill="#aff498" stroke="#aff498"/>
<circle cx="290.9" cy="260.1" r="1.5" fill="#fcb764" stroke="#fcb764"/>
<circle cx="246.0" cy="175.4" r="1.5" fill="#ff9f54" stroke="#ff9f54"/>
<circle cx="238.5" cy="73.4" r="1.5" fill="#ff331a" stroke="#ff331a"/>
<circle cx="192.7" cy="359.0" r="1.5" fill="#425ffa" stroke="#425ffa"/>
<circle cx="254.4" cy="88.7" r="1.5" fill="#ff391d" stroke="#ff391d"/>
<circle cx="274.8" cy="193.3" r="1.5" fill="#ff8f4b" stroke="#ff8f4b"/>
<circle cx="228.4" cy="84.9" r="1.5" fill="#ff361b" stroke="#ff361b"/>
<circle cx="209.5" cy="367.5" r="1.5" fill="#3176f8" stroke="#3176f8"/>
<circle cx="203.7" cy="404.8" r="1.5" fill="#4953fb" stroke="#4953fb"/>
<circle cx="271.9" cy="225.4" r="1.5" fill="#fcb864" stroke="#fcb864"/>
<circle cx="172.2" cy="333.3" r="1.5" fill="#208ef4" stroke="#208ef4"/>
<circle cx="229.0" cy="119.1" r="1.5" fill="#ff6835" stroke="#ff6835"/>
<circle cx="252.8" cy="144.2" r="1.5" fill="#ff783e" stroke="#ff783e"/>
<circle cx="227.9" cy="14.6" r="1.5" fill="#ff1e0f" stroke="#ff1e0f"/>
<circle cx="226.1" cy="64.7" r="1.5" fill="#ff2915" stroke="#ff2915"/>
<circle cx="308.6" cy="284.5" r="1.5" fill="#ded579" stroke="#ded579"/>
<circle cx="303.7" cy="309.0" r="1.5" fill="#95fda8" stroke="#95fda8"/>
<circle cx="152.2" cy="299.2" r="1.5" fill="#2883f6" stroke="#2883f6"/>
<circle cx="188.2" cy="337.3" r="1.5" fill="#06aeed" stroke="#06aeed"/>
<circle cx="261.5" cy="169.3" r="1.5" fill="#ff8746" stroke="#ff8746"/>
<circle cx="126.9" cy="386.5" r="1.5" fill="#4756fb" stroke="#4756fb"/>
<circle cx="228.7" cy="84.2" r="1.5" fill="#ff7e41" stroke="#ff7e41"/>
<circle cx="231.3" cy="178.9" r="1.5" fill="#ff8e4a" stroke="#ff8e4a"/>
<circle cx="264.8" cy="231.2" r="1.5" fill="#cee284" stroke="#cee284"/>
<circle cx="259.0" cy="319.7" r="1.5" fill="#1fd3e1" stroke="#1fd3e1"/>
<circle cx="248.3" cy="184.1" r="1.5" fill="#ff7f42" stroke="#ff7f42"/>
<circle cx="214.9" cy="369.8" r="1.5" fill="#3373f8" stroke="#3373f8"/>
<circle cx="239.9" cy="138.4" r="1.5" fill="#ff5d2f" stroke="#ff5d2f"/>
<circle cx="298.6" cy="286.8" r="1.5" fill="#cae587" stroke="#cae587"/>
<circle cx="315.4" cy="235.3" r="1.5" fill="#ffa458" stroke="#ffa458"/>
<circle cx="273.1" cy="314.4" r="1.5" fill="#53f5cb" stroke="#53f5cb"/>
<circle cx="280.9" cy="321.1" r="1.5" fill="#70febd" stroke="#70febd"/>
<circle cx="238.8" cy="102.1" r="1.5" fill="#ff542b" stroke="#ff542b"/>
<circle cx="217.0" cy="87.9" r="1.5" fill="#ff3119" stroke="#ff3119"/>
<circle cx="268.3" cy="238.4" r="1.5" fill="#ded579" stroke="#ded579"/>
<circle cx="269.5" cy="226.1" r="1.5" fill="#f9bb66" stroke="#f9bb66"/>
<circle cx="141.5" cy="349.8" r="1.5" fill="#455afb" stroke="#455afb"/>
<circle cx="248.3" cy="195.0" r="1.5" fill="#ff9a51" stroke="#ff9a51"/>
<circle cx="261.3" cy="236.7" r="1.5" fill="#baef91" stroke="#baef91"/>
<circle cx="248.7" cy="138.4" r="1.5" fill="#ff6131" stroke="#ff6131"/>
<circle cx="239.1" cy="174.2" r="1.5" fill="#ff763d" stroke="#ff763d"/>
<circle cx="246.1" cy="181.4" r="1.5" fill="#ffad5d" stroke="#ffad5d"/>
<circle cx="185.6" cy="356.3" r="1.5" fill="#3078f7" stroke="#3078f7"/>
<circle cx="298.7" cy="309.1" r="1.5" fill="#89ffaf" stroke="#89ffaf"/>
<circle cx="238.0" cy="94.9" r="1.5" fill="#ff4322" stroke="#ff4322"/>
<circle cx="237.2" cy="95.3" r="1.5" fill="#ff5d2f" stroke="#ff5d2f"/>
<circle cx="280.9" cy="275.4" r="1.5" fill="#8ffeab" stroke="#8ffeab"/>
<circle cx="225.5" cy="70.3" r="1.5" fill="#ff2d16" stroke="#ff2d16"/>
<circle cx="133.0" cy="387.1" r="1.5" fill="#425efb" stroke="#425efb"/>
<circle cx="245.4" cy="183.7" r="1.5" fill="#ff904b" stroke="#ff904b"/>
<circle cx="240.2" cy="101.5" r="1.5" fill="#ff6332" stroke="#ff6332"/>
<circle cx="281.2" cy="244.8" r="1.5" fill="#f0c56d" stroke="#f0c56d"/>
<circle cx="242.5" cy="144.1" r="1.5" fill="#ff5029" stroke="#ff5029"/>
<circle cx="242.6" cy="128.7" r="1.5" fill="#ff6634" stroke="#ff6634"/>
<circle cx="248.3" cy="124.9" r="1.5" fill="#ff5d2f" stroke="#ff5d2f"/>
<circle cx="244.3" cy="182.1" r="1.5" fill="#ff9e54" stroke="#ff9e54"/>
<circle cx="232.9" cy="136.6" r="1.5" fill="#ff6433" stroke="#ff6433"/>
<circle cx="246.2" cy="140.8" r="1.5" fill="#ff793f" stroke="#ff793f"/>
<circle cx="156.2" cy="314.6" r="1.5" fill="#2d7df7" stroke="#2d7df7"/>
<circle cx="322.0" cy="235.0" r="1.5" fill="#e5ce74" stroke="#e5ce74"/>
<circle cx="243.6" cy="186.0" r="1.5" fill="#f9bb66" stroke="#f9bb66"/>
<circle cx="230.9" cy="159.0" r="1.5" fill="#ff8b48" stroke="#ff8b48"/>
<circle cx="299.0" cy="305.4" r="1.5" fill="#82ffb3" stroke="#82ffb3"/>
<circle cx="271.7" cy="215.0" r="1.5" fill="#ff8a48" stroke="#ff8a48"/>
<circle cx="253.6" cy="257.6" r="1.5" fill="#60fac5" stroke="#60fac5"/>
<circle cx="233.4" cy="105.1" r="1.5" fill="#ff5a2e" stroke="#ff5a2e"/>
<circle cx="123.9" cy="307.7" r="1.5" fill="#3c67fa" stroke="#3c67fa"/>
<circle cx="249.3" cy="206.0" r="1.5" fill="#f9bb66" stroke="#f9bb66"/>
<circle cx="99.4" cy="363.6" r="1.5" fill="#4f4bfc" stroke="#4f4bfc"/>
<circle cx="236.8" cy="96.0" r="1.5" fill="#ff5d2f" stroke="#ff5d2f"/>
<circle cx="240.9" cy="124.8" r="1.5" fill="#ff2c16" stroke="#ff2c16"/>
<circle cx="285.4" cy="254.9" r="1.5" fill="#eaca70" stroke="#eaca70"/>
<circle cx="172.6" cy="390.6" r="1.5" fill="#386df9" stroke="#386df9"/>
<circle cx="265.2" cy="252.2" r="1.5" fill="#b1f397" stroke="#b1f397"/>
<circle cx="228.2" cy="357.2" r="1.5" fill="#19cee3" stroke="#19cee3"/>
<circle cx="256.8" cy="250.4" r="1.5" fill="#91feab" stroke="#91feab"/>
<circle cx="194.1" cy="351.5" r="1.5" fill="#3275f8" stroke="#3275f8"/>
<circle cx="200.8" cy="468.2" r="1.5" fill="#5c38fd" stroke="#5c38fd"/>
<circle cx="265.8" cy="196.1" r="1.5" fill="#ff9a51" stroke="#ff9a51"/>
<circle cx="303.8" cy="305.2" r="1.5" fill="#8efeac" stroke="#8efeac"/>
<circle cx="221.2" cy="91.2" r="1.5" fill="#ff4322" stroke="#ff4322"/>
<circle cx="242.3" cy="189.0" r="1.5" fill="#ff914c" stroke="#ff914c"/>
<circle cx="243.6" cy="77.0" r="1.5" fill="#ff4b26" stroke="#ff4b26"/>
<circle cx="235.3" cy="149.4" r="1.5" fill="#ff8444" stroke="#ff8444"/>
<circle cx="260.2" cy="190.8" r="1.5" fill="#ff954e" stroke="#ff954e"/>
<circle cx="240.5" cy="159.8" r="1.5" fill="#ff7039" stroke="#ff7039"/>
<circle cx="266.6" cy="247.6" r="1.5" fill="#b4f295" stroke="#b4f295"/>
<circle cx="166.4" cy="421.7" r="1.5" fill="#4758fb" stroke="#4758fb"/>
<circle cx="296.4" cy="336.3" r="1.5" fill="#6cfdbf" stroke="#6cfdbf"/>
<circle cx="318.6" cy="327.8" r="1.5" fill="#85ffb1" stroke="#85ffb1"/>
<circle cx="252.8" cy="221.5" r="1.5" fill="#cce385" stroke="#cce385"/>
<circle cx="248.3" cy="152.0" r="1.5" fill="#ff7a3f" stroke="#ff7a3f"/>
<circle cx="267.3" cy="212.5" r="1.5" fill="#ff9a51" stroke="#ff9a51"/>
<circle cx="267.1" cy="215.6" r="1.5" fill="#ff9b52" stroke="#ff9b52"/>
<circle cx="245.4" cy="176.1" r="1.5" fill="#ff8746" stroke="#ff8746"/>
<circle cx="234.9" cy="125.3" r="1.5" fill="#ff6935" stroke="#ff6935"/>
<circle cx="250.0" cy="159.6" r="1.5" fill="#ff753c" stroke="#ff753c"/>
<circle cx="285.4" cy="280.2" r="1.5" fill="#b4f295" stroke="#b4f295"/>
<circle cx="278.9" cy="276.5" r="1.5" fill="#97fca7" stroke="#97fca7"/>
<circle cx="236.2" cy="167.3" r="1.5" fill="#ff8947" stroke="#ff8947"/>
<circle cx="220.0" cy="124.5" r="1.5" fill="#ff592d" stroke="#ff592d"/>
<circle cx="238.3" cy="112.8" r="1.5" fill="#ff552b" stroke="#ff552b"/>
<circle cx="232.3" cy="113.6" r="1.5" fill="#ff5029" stroke="#ff5029"/>
<circle cx="242.3" cy="120.4" r="1.5" fill="#ff5a2e" stroke="#ff5a2e"/>
<circle cx="279.4" cy="260.1" r="1.5" fill="#c1eb8d" stroke="#c1eb8d"/>
<circle cx="230.3" cy="282.2" r="1.5" fill="#2adddd" stroke="#2adddd"/>
<circle cx="166.4" cy="444.5" r="1.5" fill="#652afe" stroke="#652afe"/>
<circle cx="212.0" cy="185.0" r="1.5" fill="#ff964f" stroke="#ff964f"/>
<circle cx="264.0" cy="248.2" r="1.5" fill="#90feab" stroke="#90feab"/>
<circle cx="247.9" cy="214.7" r="1.5" fill="#dbd87b" stroke="#dbd87b"/>
<circle cx="239.9" cy="157.5" r="1.5" fill="#ff8243" stroke="#ff8243"/>
<circle cx="267.5" cy="252.1" r="1.5" fill="#a3f9a0" stroke="#a3f9a0"/>
<circle cx="280.9" cy="254.1" r="1.5" fill="#f5bf69" stroke="#f5bf69"/>
<circle cx="252.7" cy="143.4" r="1.5" fill="#ff5029" stroke="#ff5029"/>
<circle cx="166.4" cy="335.3" r="1.5" fill="#3e63fa" stroke="#3e63fa"/>
<circle cx="230.6" cy="78.4" r="1.5" fill="#ff4221" stroke="#ff4221"/>
<circle cx="221.0" cy="100.0" r="1.5" fill="#ff4925" stroke="#ff4925"/>
<circle cx="243.8" cy="111.4" r="1.5" fill="#ff4c26" stroke="#ff4c26"/>
<circle cx="232.3" cy="136.2" r="1.5" fill="#ff7039" stroke="#ff7039"/>
<circle cx="172.2" cy="342.3" r="1.5" fill="#1c92f3" stroke="#1c92f3"/>
<circle cx="234.1" cy="303.5" r="1.5" fill="#32e3da" stroke="#32e3da"/>
<circle cx="246.8" cy="149.5" r="1.5" fill="#ff6433" stroke="#ff6433"/>
<circle cx="239.9" cy="156.7" r="1.5" fill="#ff8b49" stroke="#ff8b49"/>
<circle cx="174.6" cy="338.4" r="1.5" fill="#238af5" stroke="#238af5"/>
<circle cx="275.3" cy="355.1" r="1.5" fill="#4df3ce" stroke="#4df3ce"/>
<circle cx="216.0" cy="185.5" r="1.5" fill="#ff9e54" stroke="#ff9e54"/>
<circle cx="239.7" cy="141.7" r="1.5" fill="#ff6534" stroke="#ff6534"/>
<circle cx="278.2" cy="238.9" r="1.5" fill="#f7bd68" stroke="#f7bd68"/>
<circle cx="254.2" cy="177.8" r="1.5" fill="#ff8445" stroke="#ff8445"/>
<circle cx="235.0" cy="148.3" r="1.5" fill="#ff7f42" stroke="#ff7f42"/>
<circle cx="258.1" cy="225.1" r="1.5" fill="#b9ef92" stroke="#b9ef92"/>
<circle cx="248.2" cy="123.0" r="1.5" fill="#ff5f30" stroke="#ff5f30"/>
<circle cx="240.8" cy="173.0" r="1.5" fill="#ff713a" stroke="#ff713a"/>
<circle cx="231.9" cy="159.7" r="1.5" fill="#ff914c" stroke="#ff914c"/>
<circle cx="236.8" cy="165.6" r="1.5" fill="#ff7c40" stroke="#ff7c40"/>
<circle cx="282.6" cy="228.0" r="1.5" fill="#f4c06a" stroke="#f4c06a"/>
<circle cx="182.1" cy="328.0" r="1.5" fill="#0fa3f0" stroke="#0fa3f0"/>
<circle cx="214.4" cy="471.8" r="1.5" fill="#6629fe" stroke="#6629fe"/>
<circle cx="276.4" cy="304.3" r="1.5" fill="#86ffb1" stroke="#86ffb1"/>
<circle cx="171.7" cy="436.4" r="1.5" fill="#593bfd" stroke="#593bfd"/>
<circle cx="238.6" cy="157.8" r="1.5" fill="#ff8d4a" stroke="#ff8d4a"/>
<circle cx="279.3" cy="266.4" r="1.5" fill="#ecc86f" stroke="#ecc86f"/>
<circle cx="248.5" cy="169.0" r="1.5" fill="#ff7c40" stroke="#ff7c40"/>
<circle cx="274.0" cy="185.8" r="1.5" fill="#ff934d" stroke="#ff934d"/>
<circle cx="159.8" cy="317.6" r="1.5" fill="#2b7ef7" stroke="#2b7ef7"/>
<circle cx="230.7" cy="107.5" r="1.5" fill="#ff4f28" stroke="#ff4f28"/>
<circle cx="263.0" cy="205.4" r="1.5" fill="#ffb05f" stroke="#ffb05f"/>
<circle cx="271.1" cy="268.2" r="1.5" fill="#90feab" stroke="#90feab"/>
<circle cx="238.4" cy="145.5" r="1.5" fill="#ff8e4a" stroke="#ff8e4a"/>
<circle cx="226.7" cy="31.7" r="1.5" fill="#ff160b" stroke="#ff160b"/>
<circle cx="232.6" cy="279.4" r="1.5" fill="#46efd1" stroke="#46efd1"/>
<circle cx="279.2" cy="253.0" r="1.5" fill="#e8cc72" stroke="#e8cc72"/>
<circle cx="242.0" cy="190.8" r="1.5" fill="#ffa356" stroke="#ffa356"/>
<circle cx="255.4" cy="205.1" r="1.5" fill="#e4d075" stroke="#e4d075"/>
<circle cx="221.7" cy="126.9" r="1.5" fill="#ff6d38" stroke="#ff6d38"/>
<circle cx="267.9" cy="286.7" r="1.5" fill="#5ef9c6" stroke="#5ef9c6"/>
<circle cx="247.5" cy="148.0" r="1.5" fill="#ff5f31" stroke="#ff5f31"/>
<circle cx="238.7" cy="98.3" r="1.5" fill="#ff4925" stroke="#ff4925"/>
<circle cx="261.7" cy="207.5" r="1.5" fill="#f0c56d" stroke="#f0c56d"/>
<circle cx="179.7" cy="355.1" r="1.5" fill="#3d66fa" stroke="#3d66fa"/>
<circle cx="300.5" cy="326.0" r="1.5" fill="#6afdc0" stroke="#6afdc0"/>
<circle cx="224.2" cy="115.2" r="1.5" fill="#ff5e30" stroke="#ff5e30"/>
<circle cx="221.6" cy="125.5" r="1.5" fill="#ff371c" stroke="#ff371c"/>
<circle cx="276.6" cy="310.4" r="1.5" fill="#57f7c9" stroke="#57f7c9"/>
<circle cx="256.7" cy="172.5" r="1.5" fill="#ff8947" stroke="#ff8947"/>
<circle cx="252.8" cy="325.2" r="1.5" fill="#4bf2cf" stroke="#4bf2cf"/>
<circle cx="245.4" cy="197.6" r="1.5" fill="#feb562" stroke="#feb562"/>
<circle cx="257.8" cy="368.8" r="1.5" fill="#6bfdbf" stroke="#6bfdbf"/>
<circle cx="250.0" cy="153.1" r="1.5" fill="#ff934d" stroke="#ff934d"/>
<circle cx="281.1" cy="240.9" r="1.5" fill="#ffb461" stroke="#ffb461"/>
<circle cx="267.5" cy="259.8" r="1.5" fill="#96fca7" stroke="#96fca7"/>
<circle cx="154.3" cy="359.9" r="1.5" fill="#3a69f9" stroke="#3a69f9"/>
<circle cx="258.1" cy="263.9" r="1.5" fill="#7fffb4" stroke="#7fffb4"/>
<circle cx="257.5" cy="195.0" r="1.5" fill="#ff9b52" stroke="#ff9b52"/>
<circle cx="222.1" cy="122.5" r="1.5" fill="#ff4925" stroke="#ff4925"/>
<circle cx="214.2" cy="92.5" r="1.5" fill="#ff4422" stroke="#ff4422"/>
<circle cx="273.9" cy="256.7" r="1.5" fill="#cfe183" stroke="#cfe183"/>
<circle cx="280.9" cy="261.6" r="1.5" fill="#b0f498" stroke="#b0f498"/>
<circle cx="188.2" cy="322.0" r="1.5" fill="#0da5ef" stroke="#0da5ef"/>
<circle cx="238.5" cy="148.9" r="1.5" fill="#ff8646" stroke="#ff8646"/>
<circle cx="246.9" cy="126.0" r="1.5" fill="#ff5e30" stroke="#ff5e30"/>
<circle cx="241.5" cy="297.7" r="1.5" fill="#4bf2cf" stroke="#4bf2cf"/>
<circle cx="260.6" cy="316.4" r="1.5" fill="#24d8df" stroke="#24d8df"/>
<circle cx="240.3" cy="163.2" r="1.5" fill="#ff8344" stroke="#ff8344"/>
<circle cx="244.4" cy="142.3" r="1.5" fill="#ff6332" stroke="#ff6332"/>
<circle cx="229.4" cy="84.0" r="1.5" fill="#ff4e27" stroke="#ff4e27"/>
<circle cx="224.9" cy="20.5" r="1.5" fill="#ff160b" stroke="#ff160b"/>
<circle cx="264.2" cy="177.3" r="1.5" fill="#ff9d53" stroke="#ff9d53"/>
<circle cx="274.5" cy="216.6" r="1.5" fill="#ff9d53" stroke="#ff9d53"/>
<circle cx="277.2" cy="271.5" r="1.5" fill="#a5f89e" stroke="#a5f89e"/>
<circle cx="237.5" cy="166.8" r="1.5" fill="#ff954e" stroke="#ff954e"/>
<circle cx="149.5" cy="341.0" r="1.5" fill="#3b69f9" stroke="#3b69f9"/>
<circle cx="242.6" cy="51.0" r="1.5" fill="#ff2d17" stroke="#ff2d17"/>
<circle cx="250.2" cy="193.1" r="1.5" fill="#ffad5d" stroke="#ffad5d"/>
<circle cx="348.6" cy="398.2" r="1.5" fill="#3c67f9" stroke="#3c67f9"/>
<circle cx="243.2" cy="140.6" r="1.5" fill="#ff6b37" stroke="#ff6b37"/>
<circle cx="282.7" cy="315.9" r="1.5" fill="#5af8c8" stroke="#5af8c8"/>
<circle cx="240.2" cy="143.9" r="1.5" fill="#ff7b40" stroke="#ff7b40"/>
<circle cx="261.7" cy="218.1" r="1.5" fill="#ffb05f" stroke="#ffb05f"/>
<circle cx="147.4" cy="376.1" r="1.5" fill="#3a6af9" stroke="#3a6af9"/>
<circle cx="275.9" cy="240.7" r="1.5" fill="#e4cf75" stroke="#e4cf75"/>
<circle cx="263.3" cy="352.4" r="1.5" fill="#2bdedc" stroke="#2bdedc"/>
<circle cx="345.8" cy="366.0" r="1.5" fill="#70febd" stroke="#70febd"/>
<circle cx="294.8" cy="342.3" r="1.5" fill="#68fcc1" stroke="#68fcc1"/>
<circle cx="192.0" cy="96.0" r="1.5" fill="#ff6d38" stroke="#ff6d38"/>
<circle cx="234.4" cy="109.9" r="1.5" fill="#ff6634" stroke="#ff6634"/>
<circle cx="232.8" cy="171.2" r="1.5" fill="#ff8947" stroke="#ff8947"/>
<circle cx="237.4" cy="137.2" r="1.5" fill="#ff6031" stroke="#ff6031"/>
<circle cx="263.1" cy="312.5" r="1.5" fill="#37e6d8" stroke="#37e6d8"/>
<circle cx="273.5" cy="287.2" r="1.5" fill="#93fda9" stroke="#93fda9"/>
<circle cx="237.4" cy="122.6" r="1.5" fill="#ff4a25" stroke="#ff4a25"/>
<circle cx="328.2" cy="362.7" r="1.5" fill="#86ffb0" stroke="#86ffb0"/>
<circle cx="193.5" cy="271.1" r="1.5" fill="#10c5e7" stroke="#10c5e7"/>
<circle cx="220.5" cy="64.7" r="1.5" fill="#ff2714" stroke="#ff2714"/>
<circle cx="197.1" cy="348.9" r="1.5" fill="#1a95f3" stroke="#1a95f3"/>
<circle cx="300.6" cy="278.0" r="1.5" fill="#b2f396" stroke="#b2f396"/>
<circle cx="258.2" cy="225.3" r="1.5" fill="#cde284" stroke="#cde284"/>
<circle cx="272.5" cy="198.9" r="1.5" fill="#ffae5e" stroke="#ffae5e"/>
<circle cx="244.9" cy="171.3" r="1.5" fill="#ff9a51" stroke="#ff9a51"/>
<circle cx="306.9" cy="307.9" r="1.5" fill="#d4dd80" stroke="#d4dd80"/>
<circle cx="226.7" cy="117.2" r="1.5" fill="#ff532a" stroke="#ff532a"/>
<circle cx="300.2" cy="299.5" r="1.5" fill="#d8da7d" stroke="#d8da7d"/>
<circle cx="257.0" cy="252.2" r="1.5" fill="#9dfba3" stroke="#9dfba3"/>
<circle cx="286.8" cy="254.6" r="1.5" fill="#c6e789" stroke="#c6e789"/>
<circle cx="286.6" cy="234.4" r="1.5" fill="#eec66e" stroke="#eec66e"/>
<circle cx="254.9" cy="202.7" r="1.5" fill="#e6cd73" stroke="#e6cd73"/>
<circle cx="228.4" cy="131.8" r="1.5" fill="#ff6e39" stroke="#ff6e39"/>
<circle cx="200.0" cy="160.0" r="1.5" fill="#ff8243" stroke="#ff8243"/>
<circle cx="255.8" cy="216.2" r="1.5" fill="#e9cb71" stroke="#e9cb71"/>
<circle cx="283.9" cy="219.9" r="1.5" fill="#ff9951" stroke="#ff9951"/>
<circle cx="261.5" cy="200.2" r="1.5" fill="#feb662" stroke="#feb662"/>
<circle cx="256.9" cy="311.6" r="1.5" fill="#29dcdd" stroke="#29dcdd"/>
<circle cx="230.4" cy="108.3" r="1.5" fill="#ff4623" stroke="#ff4623"/>
<circle cx="316.3" cy="307.8" r="1.5" fill="#d2df81" stroke="#d2df81"/>
<circle cx="190.0" cy="370.6" r="1.5" fill="#3e65fa" stroke="#3e65fa"/>
<circle cx="259.5" cy="169.1" r="1.5" fill="#ff9950" stroke="#ff9950"/>
<circle cx="284.0" cy="227.9" r="1.5" fill="#edc86f" stroke="#edc86f"/>
<circle cx="250.7" cy="160.2" r="1.5" fill="#ff8c49" stroke="#ff8c49"/>
<circle cx="265.6" cy="203.3" r="1.5" fill="#ffb562" stroke="#ffb562"/>
<circle cx="239.5" cy="88.2" r="1.5" fill="#ff6936" stroke="#ff6936"/>
<circle cx="292.7" cy="286.6" r="1.5" fill="#d1e082" stroke="#d1e082"/>
<circle cx="229.6" cy="47.3" r="1.5" fill="#ff2613" stroke="#ff2613"/>
<circle cx="269.5" cy="258.0" r="1.5" fill="#bced8f" stroke="#bced8f"/>
<circle cx="293.8" cy="299.6" r="1.5" fill="#b9ef92" stroke="#b9ef92"/>
<circle cx="244.6" cy="147.8" r="1.5" fill="#ff7a3f" stroke="#ff7a3f"/>
<circle cx="296.7" cy="181.5" r="1.5" fill="#ff9850" stroke="#ff9850"/>
<circle cx="284.8" cy="256.7" r="1.5" fill="#fcb864" stroke="#fcb864"/>
<circle cx="166.9" cy="290.1" r="1.5" fill="#149cf1" stroke="#149cf1"/>
<circle cx="170.3" cy="395.6" r="1.5" fill="#4658fb" stroke="#4658fb"/>
<circle cx="231.1" cy="120.8" r="1.5" fill="#ff4e28" stroke="#ff4e28"/>
<circle cx="247.9" cy="173.4" r="1.5" fill="#ff6e38" stroke="#ff6e38"/>
<circle cx="220.6" cy="89.7" r="1.5" fill="#ff5029" stroke="#ff5029"/>
<circle cx="269.1" cy="257.3" r="1.5" fill="#c2ea8c" stroke="#c2ea8c"/>
<circle cx="279.6" cy="291.4" r="1.5" fill="#86ffb0" stroke="#86ffb0"/>
<circle cx="284.6" cy="294.4" r="1.5" fill="#65fcc2" stroke="#65fcc2"/>
<circle cx="287.4" cy="297.1" r="1.5" fill="#6bfdbf" stroke="#6bfdbf"/>
<circle cx="180.2" cy="337.3" r="1.5" fill="#2882f6" stroke="#2882f6"/>
<circle cx="276.6" cy="206.3" r="1.5" fill="#ff934d" stroke="#ff934d"/>
<circle cx="228.0" cy="95.7" r="1.5" fill="#ff4322" stroke="#ff4322"/>
<circle cx="280.4" cy="234.1" r="1.5" fill="#e1d277" stroke="#e1d277"/>
<circle cx="221.4" cy="125.9" r="1.5" fill="#ff7b3f" stroke="#ff7b3f"/>
<circle cx="225.8" cy="150.2" r="1.5" fill="#ff6232" stroke="#ff6232"/>
<circle cx="238.7" cy="177.9" r="1.5" fill="#ff944e" stroke="#ff944e"/>
<circle cx="234.2" cy="88.9" r="1.5" fill="#ff532a" stroke="#ff532a"/>
<circle cx="255.2" cy="194.7" r="1.5" fill="#ff8d4a" stroke="#ff8d4a"/>
<circle cx="275.4" cy="252.5" r="1.5" fill="#cae587" stroke="#cae587"/>
<circle cx="234.6" cy="85.6" r="1.5" fill="#ff4724" stroke="#ff4724"/>
<circle cx="255.9" cy="221.6" r="1.5" fill="#c1ea8c" stroke="#c1ea8c"/>
<circle cx="257.8" cy="188.5" r="1.5" fill="#ff8c49" stroke="#ff8c49"/>
<circle cx="179.3" cy="278.2" r="1.5" fill="#159cf1" stroke="#159cf1"/>
<circle cx="315.9" cy="290.0" r="1.5" fill="#ebc970" stroke="#ebc970"/>
<circle cx="252.9" cy="190.1" r="1.5" fill="#ffa357" stroke="#ffa357"/>
<circle cx="230.9" cy="321.1" r="1.5" fill="#34e4d9" stroke="#34e4d9"/>
<circle cx="314.3" cy="257.3" r="1.5" fill="#ffae5d" stroke="#ffae5d"/>
<circle cx="243.8" cy="151.9" r="1.5" fill="#ff9d53" stroke="#ff9d53"/>
<circle cx="248.2" cy="45.4" r="1.5" fill="#ff4422" stroke="#ff4422"/>
<circle cx="217.7" cy="89.2" r="1.5" fill="#ff3e1f" stroke="#ff3e1f"/>
<circle cx="280.3" cy="240.6" r="1.5" fill="#f4c069" stroke="#f4c069"/>
<circle cx="274.4" cy="321.9" r="1.5" fill="#19cee3" stroke="#19cee3"/>
<circle cx="276.2" cy="221.4" r="1.5" fill="#f2c26b" stroke="#f2c26b"/>
<circle cx="244.2" cy="173.8" r="1.5" fill="#ff9d53" stroke="#ff9d53"/>
<circle cx="228.0" cy="106.6" r="1.5" fill="#ff6031" stroke="#ff6031"/>
<circle cx="277.6" cy="316.0" r="1.5" fill="#3eebd5" stroke="#3eebd5"/>
<circle cx="233.7" cy="178.4" r="1.5" fill="#ff783e" stroke="#ff783e"/>
<circle cx="226.3" cy="128.3" r="1.5" fill="#ff592d" stroke="#ff592d"/>
<circle cx="268.5" cy="144.3" r="1.5" fill="#ff7c40" stroke="#ff7c40"/>
<circle cx="234.4" cy="80.3" r="1.5" fill="#ff3f20" stroke="#ff3f20"/>
<circle cx="227.6" cy="40.4" r="1.5" fill="#ff2412" stroke="#ff2412"/>
<circle cx="276.6" cy="326.0" r="1.5" fill="#42edd3" stroke="#42edd3"/>
<circle cx="205.9" cy="110.6" r="1.5" fill="#ff6534" stroke="#ff6534"/>
<circle cx="233.6" cy="98.3" r="1.5" fill="#ff5d2f" stroke="#ff5d2f"/>
<circle cx="261.6" cy="185.5" r="1.5" fill="#ffa055" stroke="#ffa055"/>
<circle cx="231.2" cy="126.8" r="1.5" fill="#ff763d" stroke="#ff763d"/>
<circle cx="172.0" cy="324.6" r="1.5" fill="#2389f5" stroke="#2389f5"/>
<circle cx="268.0" cy="253.5" r="1.5" fill="#9bfba5" stroke="#9bfba5"/>
<circle cx="240.8" cy="107.4" r="1.5" fill="#ff5129" stroke="#ff5129"/>
<circle cx="227.9" cy="117.7" r="1.5" fill="#ff5d2f" stroke="#ff5d2f"/>
<circle cx="268.4" cy="165.8" r="1.5" fill="#ffa357" stroke="#ffa357"/>
<circle cx="233.2" cy="163.1" r="1.5" fill="#ff9750" stroke="#ff9750"/>
<circle cx="316.0" cy="360.0" r="1.5" fill="#66fcc2" stroke="#66fcc2"/>
<circle cx="152.5" cy="346.4" r="1.5" fill="#5149fc" stroke="#5149fc"/>
<circle cx="272.3" cy="242.6" r="1.5" fill="#cde284" stroke="#cde284"/>
<circle cx="246.4" cy="134.3" r="1.5" fill="#ff5d2f" stroke="#ff5d2f"/>
<circle cx="178.4" cy="311.6" r="1.5" fill="#1e90f4" stroke="#1e90f4"/>
<circle cx="246.0" cy="158.7" r="1.5" fill="#ff954e" stroke="#ff954e"/>
<circle cx="250.6" cy="161.3" r="1.5" fill="#ff7b40" stroke="#ff7b40"/>
<circle cx="187.8" cy="264.3" r="1.5" fill="#0bc0e8" stroke="#0bc0e8"/>
<circle cx="283.9" cy="274.1" r="1.5" fill="#c9e587" stroke="#c9e587"/>
<circle cx="266.3" cy="235.7" r="1.5" fill="#f6be68" stroke="#f6be68"/>
<circle cx="239.6" cy="178.3" r="1.5" fill="#ff783e" stroke="#ff783e"/>
<circle cx="241.7" cy="171.3" r="1.5" fill="#ff8b49" stroke="#ff8b49"/>
<circle cx="268.8" cy="231.7" r="1.5" fill="#c6e789" stroke="#c6e789"/>
<circle cx="286.4" cy="236.1" r="1.5" fill="#e6ce74" stroke="#e6ce74"/>
<circle cx="225.1" cy="86.1" r="1.5" fill="#ff2c16" stroke="#ff2c16"/>
<circle cx="234.0" cy="142.3" r="1.5" fill="#ff8344" stroke="#ff8344"/>
<circle cx="230.5" cy="141.2" r="1.5" fill="#ff6534" stroke="#ff6534"/>
<circle cx="268.3" cy="240.3" r="1.5" fill="#fbb965" stroke="#fbb965"/>
<circle cx="237.9" cy="70.3" r="1.5" fill="#ff2714" stroke="#ff2714"/>
<circle cx="150.4" cy="352.8" r="1.5" fill="#4061fa" stroke="#4061fa"/>
<circle cx="296.3" cy="322.2" r="1.5" fill="#c7e789" stroke="#c7e789"/>
<circle cx="267.8" cy="231.7" r="1.5" fill="#e2d176" stroke="#e2d176"/>
<circle cx="323.7" cy="353.6" r="1.5" fill="#95fda8" stroke="#95fda8"/>
<circle cx="233.5" cy="117.7" r="1.5" fill="#ff6232" stroke="#ff6232"/>
<circle cx="232.1" cy="175.2" r="1.5" fill="#ff8444" stroke="#ff8444"/>
<circle cx="152.2" cy="470.6" r="1.5" fill="#593cfd" stroke="#593cfd"/>
<circle cx="174.0" cy="498.2" r="1.5" fill="#642cfe" stroke="#642cfe"/>
<circle cx="240.7" cy="154.2" r="1.5" fill="#ff8344" stroke="#ff8344"/>
<circle cx="230.8" cy="125.0" r="1.5" fill="#ff763d" stroke="#ff763d"/>
<circle cx="203.3" cy="388.5" r="1.5" fill="#3f62fa" stroke="#3f62fa"/>
<circle cx="182.9" cy="385.3" r="1.5" fill="#4a53fb" stroke="#4a53fb"/>
<circle cx="174.4" cy="327.3" r="1.5" fill="#2d7cf7" stroke="#2d7cf7"/>
<circle cx="297.9" cy="289.1" r="1.5" fill="#a4f99f" stroke="#a4f99f"/>
<circle cx="271.5" cy="228.5" r="1.5" fill="#ffb05f" stroke="#ffb05f"/>
<circle cx="229.9" cy="92.9" r="1.5" fill="#ff381c" stroke="#ff381c"/>
<circle cx="233.7" cy="121.8" r="1.5" fill="#ff6a36" stroke="#ff6a36"/>
<circle cx="267.9" cy="187.9" r="1.5" fill="#ffa759" stroke="#ffa759"/>
<circle cx="236.2" cy="141.2" r="1.5" fill="#ff6936" stroke="#ff6936"/>
<circle cx="211.7" cy="291.3" r="1.5" fill="#0ec3e7" stroke="#0ec3e7"/>
<circle cx="277.3" cy="228.3" r="1.5" fill="#e0d378" stroke="#e0d378"/>
<circle cx="164.1" cy="310.0" r="1.5" fill="#139ef1" stroke="#139ef1"/>
<circle cx="286.2" cy="311.9" r="1.5" fill="#71febc" stroke="#71febc"/>
<circle cx="307.2" cy="330.8" r="1.5" fill="#93fda9" stroke="#93fda9"/>
<circle cx="229.2" cy="111.8" r="1.5" fill="#ff5129" stroke="#ff5129"/>
<circle cx="267.3" cy="141.6" r="1.5" fill="#ff723b" stroke="#ff723b"/>
<circle cx="230.1" cy="111.5" r="1.5" fill="#ff532a" stroke="#ff532a"/>
<circle cx="239.0" cy="150.5" r="1.5" fill="#ff6132" stroke="#ff6132"/>
<circle cx="164.2" cy="395.6" r="1.5" fill="#4c4ffc" stroke="#4c4ffc"/>
<circle cx="312.9" cy="304.7" r="1.5" fill="#dbd87b" stroke="#dbd87b"/>
<circle cx="180.6" cy="377.3" r="1.5" fill="#386df9" stroke="#386df9"/>
<circle cx="230.8" cy="170.9" r="1.5" fill="#ff8f4b" stroke="#ff8f4b"/>
<circle cx="236.0" cy="69.7" r="1.5" fill="#ff381c" stroke="#ff381c"/>
<circle cx="361.0" cy="316.0" r="1.5" fill="#80ffb4" stroke="#80ffb4"/>
<circle cx="228.2" cy="99.9" r="1.5" fill="#ff4b26" stroke="#ff4b26"/>
<circle cx="290.8" cy="300.8" r="1.5" fill="#75ffba" stroke="#75ffba"/>
<circle cx="242.2" cy="148.4" r="1.5" fill="#ff783e" stroke="#ff783e"/>
<circle cx="271.0" cy="314.9" r="1.5" fill="#2fe0db" stroke="#2fe0db"/>
<circle cx="272.6" cy="234.2" r="1.5" fill="#ffab5c" stroke="#ffab5c"/>
<circle cx="215.7" cy="331.8" r="1.5" fill="#13c8e5" stroke="#13c8e5"/>
<circle cx="258.9" cy="223.1" r="1.5" fill="#bded8f" stroke="#bded8f"/>
<circle cx="259.6" cy="189.0" r="1.5" fill="#ff9951" stroke="#ff9951"/>
<circle cx="296.7" cy="359.6" r="1.5" fill="#53f5cb" stroke="#53f5cb"/>
<circle cx="258.6" cy="228.3" r="1.5" fill="#ebc970" stroke="#ebc970"/>
<circle cx="226.6" cy="111.3" r="1.5" fill="#ff4322" stroke="#ff4322"/>
<circle cx="250.0" cy="129.8" r="1.5" fill="#ff6c37" stroke="#ff6c37"/>
<circle cx="158.9" cy="306.8" r="1.5" fill="#208ef4" stroke="#208ef4"/>
<circle cx="236.8" cy="198.8" r="1.5" fill="#ffaf5e" stroke="#ffaf5e"/>
<circle cx="198.9" cy="387.1" r="1.5" fill="#4757fb" stroke="#4757fb"/>
<circle cx="225.9" cy="142.5" r="1.5" fill="#ff753c" stroke="#ff753c"/>
<circle cx="193.5" cy="279.4" r="1.5" fill="#0ec3e7" stroke="#0ec3e7"/>
<circle cx="258.0" cy="233.7" r="1.5" fill="#d3de81" stroke="#d3de81"/>
<circle cx="237.3" cy="140.1" r="1.5" fill="#ff8042" stroke="#ff8042"/>
<circle cx="249.5" cy="179.9" r="1.5" fill="#ff8e4a" stroke="#ff8e4a"/>
<circle cx="221.0" cy="312.5" r="1.5" fill="#32e3da" stroke="#32e3da"/>
<circle cx="227.4" cy="100.5" r="1.5" fill="#ff351b" stroke="#ff351b"/>
<circle cx="245.0" cy="109.6" r="1.5" fill="#ff6131" stroke="#ff6131"/>
<circle cx="163.3" cy="310.2" r="1.5" fill="#3077f7" stroke="#3077f7"/>
<circle cx="269.5" cy="258.1" r="1.5" fill="#c4e88a" stroke="#c4e88a"/>
<circle cx="257.7" cy="189.6" r="1.5" fill="#ffb05f" stroke="#ffb05f"/>
<circle cx="206.8" cy="312.8" r="1.5" fill="#09bee9" stroke="#09bee9"/>
<circle cx="234.3" cy="136.5" r="1.5" fill="#ff572c" stroke="#ff572c"/>
<circle cx="283.1" cy="326.0" r="1.5" fill="#5af8c8" stroke="#5af8c8"/>
<circle cx="283.7" cy="262.4" r="1.5" fill="#aaf69b" stroke="#aaf69b"/>
<circle cx="236.2" cy="174.4" r="1.5" fill="#ff954e" stroke="#ff954e"/>
<circle cx="282.5" cy="303.9" r="1.5" fill="#81ffb4" stroke="#81ffb4"/>
<circle cx="185.0" cy="162.0" r="1.5" fill="#ff964f" stroke="#ff964f"/>
<circle cx="245.8" cy="119.0" r="1.5" fill="#ff6132" stroke="#ff6132"/>
<circle cx="284.3" cy="180.1" r="1.5" fill="#ff9e53" stroke="#ff9e53"/>
<circle cx="155.2" cy="416.7" r="1.5" fill="#5d35fe" stroke="#5d35fe"/>
<circle cx="280.2" cy="235.3" r="1.5" fill="#f5bf69" stroke="#f5bf69"/>
<circle cx="265.7" cy="252.3" r="1.5" fill="#9bfba4" stroke="#9bfba4"/>
<circle cx="242.3" cy="171.7" r="1.5" fill="#ff9951" stroke="#ff9951"/>
<circle cx="255.6" cy="182.3" r="1.5" fill="#ff8c49" stroke="#ff8c49"/>
<circle cx="216.0" cy="341.5" r="1.5" fill="#24d8df" stroke="#24d8df"/>
<circle cx="282.7" cy="286.9" r="1.5" fill="#b2f396" stroke="#b2f396"/>
<circle cx="233.8" cy="166.7" r="1.5" fill="#ff713a" stroke="#ff713a"/>
<circle cx="259.2" cy="181.3" r="1.5" fill="#ffa759" stroke="#ffa759"/>
<circle cx="170.8" cy="366.6" r="1.5" fill="#3a69f9" stroke="#3a69f9"/>
<circle cx="297.2" cy="334.3" r="1.5" fill="#5cf9c7" stroke="#5cf9c7"/>
<circle cx="238.0" cy="87.5" r="1.5" fill="#ff351b" stroke="#ff351b"/>
<circle cx="248.5" cy="183.7" r="1.5" fill="#ff944e" stroke="#ff944e"/>
<circle cx="225.1" cy="126.6" r="1.5" fill="#ff5e30" stroke="#ff5e30"/>
<circle cx="246.5" cy="175.4" r="1.5" fill="#ff9b52" stroke="#ff9b52"/>
<circle cx="228.7" cy="111.6" r="1.5" fill="#ff5229" stroke="#ff5229"/>
<circle cx="268.5" cy="323.4" r="1.5" fill="#3eebd5" stroke="#3eebd5"/>
<circle cx="279.9" cy="231.7" r="1.5" fill="#ffb360" stroke="#ffb360"/>
<circle cx="203.3" cy="142.2" r="1.5" fill="#ff723a" stroke="#ff723a"/>
<circle cx="309.7" cy="323.4" r="1.5" fill="#8bfeae" stroke="#8bfeae"/>
<circle cx="297.1" cy="492.0" r="1.5" fill="#5a3afd" stroke="#5a3afd"/>
<circle cx="242.7" cy="178.2" r="1.5" fill="#ff974f" stroke="#ff974f"/>
<circle cx="249.1" cy="194.3" r="1.5" fill="#ffab5c" stroke="#ffab5c"/>
<circle cx="239.1" cy="95.8" r="1.5" fill="#ff5c2f" stroke="#ff5c2f"/>
<circle cx="191.7" cy="292.4" r="1.5" fill="#06aeed" stroke="#06aeed"/>
<circle cx="226.9" cy="77.3" r="1.5" fill="#ff4422" stroke="#ff4422"/>
<circle cx="245.9" cy="276.8" r="1.5" fill="#4bf2cf" stroke="#4bf2cf"/>
<circle cx="241.0" cy="194.5" r="1.5" fill="#fdb763" stroke="#fdb763"/>
<circle cx="178.0" cy="345.4" r="1.5" fill="#2685f5" stroke="#2685f5"/>
<circle cx="253.5" cy="175.5" r="1.5" fill="#ff9850" stroke="#ff9850"/>
<circle cx="149.5" cy="364.9" r="1.5" fill="#4856fb" stroke="#4856fb"/>
<circle cx="234.8" cy="159.4" r="1.5" fill="#ff8746" stroke="#ff8746"/>
<circle cx="274.9" cy="269.7" r="1.5" fill="#a6f89e" stroke="#a6f89e"/>
<circle cx="276.7" cy="191.5" r="1.5" fill="#ff914c" stroke="#ff914c"/>
<circle cx="230.5" cy="87.8" r="1.5" fill="#ff4322" stroke="#ff4322"/>
<circle cx="228.7" cy="95.8" r="1.5" fill="#ff582d" stroke="#ff582d"/>
<circle cx="175.6" cy="358.3" r="1.5" fill="#2d7cf7" stroke="#2d7cf7"/>
<circle cx="305.3" cy="297.7" r="1.5" fill="#dcd77a" stroke="#dcd77a"/>
<circle cx="210.4" cy="297.7" r="1.5" fill="#14cae5" stroke="#14cae5"/>
<circle cx="216.6" cy="120.4" r="1.5" fill="#ff562c" stroke="#ff562c"/>
<circle cx="241.5" cy="335.0" r="1.5" fill="#41ecd3" stroke="#41ecd3"/>
<circle cx="221.7" cy="73.4" r="1.5" fill="#ff341a" stroke="#ff341a"/>
<circle cx="249.4" cy="259.9" r="1.5" fill="#96fda8" stroke="#96fda8"/>
<circle cx="141.5" cy="349.0" r="1.5" fill="#455afb" stroke="#455afb"/>
<circle cx="259.3" cy="229.0" r="1.5" fill="#c5e88a" stroke="#c5e88a"/>
<circle cx="235.7" cy="127.5" r="1.5" fill="#ff733b" stroke="#ff733b"/>
<circle cx="240.4" cy="128.9" r="1.5" fill="#ff7e41" stroke="#ff7e41"/>
<circle cx="153.6" cy="328.8" r="1.5" fill="#4062fa" stroke="#4062fa"/>
<circle cx="227.9" cy="99.4" r="1.5" fill="#ff4422" stroke="#ff4422"/>
<circle cx="238.9" cy="134.3" r="1.5" fill="#ff7b3f" stroke="#ff7b3f"/>
<circle cx="263.2" cy="344.0" r="1.5" fill="#24d8df" stroke="#24d8df"/>
<circle cx="228.4" cy="171.8" r="1.5" fill="#ff6d38" stroke="#ff6d38"/>
<circle cx="286.4" cy="291.7" r="1.5" fill="#c9e587" stroke="#c9e587"/>
<circle cx="238.9" cy="173.0" r="1.5" fill="#ff8c49" stroke="#ff8c49"/>
<circle cx="238.7" cy="135.1" r="1.5" fill="#ff743b" stroke="#ff743b"/>
<circle cx="221.0" cy="325.3" r="1.5" fill="#1ed3e1" stroke="#1ed3e1"/>
<circle cx="169.5" cy="302.5" r="1.5" fill="#2389f5" stroke="#2389f5"/>
<circle cx="255.2" cy="259.1" r="1.5" fill="#9afca5" stroke="#9afca5"/>
<circle cx="146.5" cy="439.0" r="1.5" fill="#5c38fd" stroke="#5c38fd"/>
<circle cx="217.5" cy="285.3" r="1.5" fill="#15cae5" stroke="#15cae5"/>
<circle cx="239.0" cy="227.5" r="1.5" fill="#38e7d7" stroke="#38e7d7"/>
<circle cx="232.6" cy="136.7" r="1.5" fill="#ff753c" stroke="#ff753c"/>
<circle cx="230.5" cy="79.1" r="1.5" fill="#ff3f20" stroke="#ff3f20"/>
<circle cx="272.4" cy="225.9" r="1.5" fill="#ffa659" stroke="#ffa659"/>
<circle cx="179.7" cy="384.4" r="1.5" fill="#3c68f9" stroke="#3c68f9"/>
<circle cx="221.0" cy="472.2" r="1.5" fill="#5443fd" stroke="#5443fd"/>
<circle cx="253.5" cy="182.5" r="1.5" fill="#ffa256" stroke="#ffa256"/>
<circle cx="234.8" cy="110.8" r="1.5" fill="#ff753c" stroke="#ff753c"/>
<circle cx="177.0" cy="432.0" r="1.5" fill="#583dfd" stroke="#583dfd"/>
<circle cx="275.4" cy="247.5" r="1.5" fill="#d7da7e" stroke="#d7da7e"/>
<circle cx="244.1" cy="141.3" r="1.5" fill="#ff5f30" stroke="#ff5f30"/>
<circle cx="139.7" cy="424.0" r="1.5" fill="#5740fd" stroke="#5740fd"/>
<circle cx="233.6" cy="33.0" r="1.5" fill="#ff1f10" stroke="#ff1f10"/>
<circle cx="220.6" cy="86.3" r="1.5" fill="#ff391d" stroke="#ff391d"/>
<circle cx="228.2" cy="149.6" r="1.5" fill="#ff7a3f" stroke="#ff7a3f"/>
<circle cx="230.6" cy="116.3" r="1.5" fill="#ff4e27" stroke="#ff4e27"/>
<circle cx="305.7" cy="279.8" r="1.5" fill="#c1eb8d" stroke="#c1eb8d"/>
<circle cx="282.6" cy="411.0" r="1.5" fill="#66fcc2" stroke="#66fcc2"/>
<circle cx="158.0" cy="340.6" r="1.5" fill="#4061fa" stroke="#4061fa"/>
<circle cx="246.4" cy="178.7" r="1.5" fill="#ffa357" stroke="#ffa357"/>
<circle cx="209.6" cy="103.0" r="1.5" fill="#ff5d2f" stroke="#ff5d2f"/>
<circle cx="260.2" cy="226.5" r="1.5" fill="#dad87b" stroke="#dad87b"/>
<circle cx="251.5" cy="164.7" r="1.5" fill="#ff793e" stroke="#ff793e"/>
<circle cx="264.5" cy="206.8" r="1.5" fill="#ff9b52" stroke="#ff9b52"/>
<circle cx="253.6" cy="178.0" r="1.5" fill="#ffa256" stroke="#ffa256"/>
<circle cx="237.6" cy="177.5" r="1.5" fill="#ffa457" stroke="#ffa457"/>
<circle cx="306.4" cy="302.6" r="1.5" fill="#d9d97c" stroke="#d9d97c"/>
<circle cx="158.9" cy="306.6" r="1.5" fill="#376ff9" stroke="#376ff9"/>
<circle cx="285.4" cy="225.2" r="1.5" fill="#f1c36c" stroke="#f1c36c"/>
<circle cx="239.8" cy="101.2" r="1.5" fill="#ff4c26" stroke="#ff4c26"/>
<circle cx="234.8" cy="62.2" r="1.5" fill="#ff2d17" stroke="#ff2d17"/>
<circle cx="275.5" cy="350.3" r="1.5" fill="#26d9df" stroke="#26d9df"/>
<circle cx="259.1" cy="318.3" r="1.5" fill="#30e1db" stroke="#30e1db"/>
<circle cx="255.1" cy="180.5" r="1.5" fill="#ff9e54" stroke="#ff9e54"/>
<circle cx="220.8" cy="86.1" r="1.5" fill="#ff5c2f" stroke="#ff5c2f"/>
<circle cx="237.6" cy="166.6" r="1.5" fill="#ff8847" stroke="#ff8847"/>
<circle cx="226.3" cy="144.3" r="1.5" fill="#ff6936" stroke="#ff6936"/>
<circle cx="258.6" cy="169.4" r="1.5" fill="#ff924c" stroke="#ff924c"/>
<circle cx="153.0" cy="328.7" r="1.5" fill="#3077f7" stroke="#3077f7"/>
<circle cx="251.0" cy="137.3" r="1.5" fill="#ff552b" stroke="#ff552b"/>
<circle cx="240.6" cy="455.4" r="1.5" fill="#5641fd" stroke="#5641fd"/>
<circle cx="172.6" cy="332.6" r="1.5" fill="#2d7df7" stroke="#2d7df7"/>
<circle cx="233.6" cy="118.9" r="1.5" fill="#ff4623" stroke="#ff4623"/>
<circle cx="200.1" cy="447.7" r="1.5" fill="#593cfd" stroke="#593cfd"/>
<circle cx="101.2" cy="447.5" r="1.5" fill="#6628fe" stroke="#6628fe"/>
<circle cx="278.0" cy="257.6" r="1.5" fill="#cde385" stroke="#cde385"/>
<circle cx="258.2" cy="111.3" r="1.5" fill="#ff6735" stroke="#ff6735"/>
<circle cx="273.3" cy="293.1" r="1.5" fill="#6bfdbf" stroke="#6bfdbf"/>
<circle cx="220.2" cy="305.7" r="1.5" fill="#15cae5" stroke="#15cae5"/>
<circle cx="283.7" cy="221.5" r="1.5" fill="#ff9d53" stroke="#ff9d53"/>
<circle cx="248.2" cy="189.9" r="1.5" fill="#ff964f" stroke="#ff964f"/>
<circle cx="276.2" cy="227.9" r="1.5" fill="#ffb260" stroke="#ffb260"/>
<circle cx="241.5" cy="127.5" r="1.5" fill="#ff6734" stroke="#ff6734"/>
<circle cx="272.4" cy="285.7" r="1.5" fill="#66fcc2" stroke="#66fcc2"/>
<circle cx="250.7" cy="193.0" r="1.5" fill="#ff944e" stroke="#ff944e"/>
<circle cx="235.2" cy="196.4" r="1.5" fill="#ffa055" stroke="#ffa055"/>
<circle cx="238.4" cy="95.6" r="1.5" fill="#ff4f28" stroke="#ff4f28"/>
<circle cx="193.5" cy="298.3" r="1.5" fill="#01b6eb" stroke="#01b6eb"/>
<circle cx="214.9" cy="383.0" r="1.5" fill="#2981f6" stroke="#2981f6"/>
<circle cx="179.7" cy="388.3" r="1.5" fill="#445bfb" stroke="#445bfb"/>
<circle cx="238.9" cy="76.6" r="1.5" fill="#ff5029" stroke="#ff5029"/>
<circle cx="145.0" cy="330.5" r="1.5" fill="#2f7af7" stroke="#2f7af7"/>
<circle cx="265.3" cy="173.4" r="1.5" fill="#ff9850" stroke="#ff9850"/>
<circle cx="254.3" cy="172.5" r="1.5" fill="#ff8645" stroke="#ff8645"/>
<circle cx="277.7" cy="184.0" r="1.5" fill="#ff8a48" stroke="#ff8a48"/>
<circle cx="238.6" cy="173.5" r="1.5" fill="#ff8d4a" stroke="#ff8d4a"/>
<circle cx="320.3" cy="313.0" r="1.5" fill="#d7db7e" stroke="#d7db7e"/>
<circle cx="223.7" cy="315.5" r="1.5" fill="#25d8df" stroke="#25d8df"/>
<circle cx="241.8" cy="268.4" r="1.5" fill="#46efd1" stroke="#46efd1"/>
<circle cx="250.9" cy="178.1" r="1.5" fill="#ff8947" stroke="#ff8947"/>
<circle cx="274.7" cy="164.4" r="1.5" fill="#ff9d53" stroke="#ff9d53"/>
<circle cx="352.0" cy="312.0" r="1.5" fill="#bded8f" stroke="#bded8f"/>
<circle cx="237.6" cy="110.9" r="1.5" fill="#ff371b" stroke="#ff371b"/>
<circle cx="283.5" cy="355.4" r="1.5" fill="#32e3da" stroke="#32e3da"/>
<circle cx="271.0" cy="240.5" r="1.5" fill="#bfec8e" stroke="#bfec8e"/>
<circle cx="297.7" cy="208.1" r="1.5" fill="#f1c46c" stroke="#f1c46c"/>
<circle cx="296.9" cy="282.0" r="1.5" fill="#edc76f" stroke="#edc76f"/>
<circle cx="268.4" cy="236.0" r="1.5" fill="#cfe183" stroke="#cfe183"/>
<circle cx="99.8" cy="419.9" r="1.5" fill="#6032fe" stroke="#6032fe"/>
<circle cx="223.1" cy="160.6" r="1.5" fill="#ff783e" stroke="#ff783e"/>
<circle cx="312.3" cy="256.7" r="1.5" fill="#f2c26b" stroke="#f2c26b"/>
<circle cx="257.5" cy="211.4" r="1.5" fill="#ffb05f" stroke="#ffb05f"/>
<circle cx="239.0" cy="135.2" r="1.5" fill="#ff5e30" stroke="#ff5e30"/>
<circle cx="231.7" cy="257.2" r="1.5" fill="#42edd3" stroke="#42edd3"/>
<circle cx="215.0" cy="115.8" r="1.5" fill="#ff783e" stroke="#ff783e"/>
<circle cx="236.0" cy="113.0" r="1.5" fill="#ff4a25" stroke="#ff4a25"/>
<circle cx="236.7" cy="113.4" r="1.5" fill="#ff4e28" stroke="#ff4e28"/>
<circle cx="259.8" cy="185.5" r="1.5" fill="#ffa457" stroke="#ffa457"/>
<circle cx="169.0" cy="474.7" r="1.5" fill="#5d36fe" stroke="#5d36fe"/>
<circle cx="315.9" cy="305.3" r="1.5" fill="#d7db7e" stroke="#d7db7e"/>
<circle cx="240.1" cy="122.7" r="1.5" fill="#ff592d" stroke="#ff592d"/>
<circle cx="249.1" cy="184.3" r="1.5" fill="#ff9e54" stroke="#ff9e54"/>
<circle cx="228.4" cy="113.2" r="1.5" fill="#ff552b" stroke="#ff552b"/>
<circle cx="303.6" cy="361.3" r="1.5" fill="#76ffba" stroke="#76ffba"/>
<circle cx="254.1" cy="190.9" r="1.5" fill="#ffad5d" stroke="#ffad5d"/>
<circle cx="283.2" cy="222.9" r="1.5" fill="#feb562" stroke="#feb562"/>
<circle cx="261.6" cy="223.7" r="1.5" fill="#f2c26b" stroke="#f2c26b"/>
<circle cx="283.9" cy="212.9" r="1.5" fill="#ff8344" stroke="#ff8344"/>
<circle cx="278.3" cy="326.2" r="1.5" fill="#3cead5" stroke="#3cead5"/>
<circle cx="273.1" cy="256.7" r="1.5" fill="#acf69a" stroke="#acf69a"/>
<circle cx="242.4" cy="284.0" r="1.5" fill="#3ce9d6" stroke="#3ce9d6"/>
<circle cx="272.1" cy="191.9" r="1.5" fill="#ffaf5e" stroke="#ffaf5e"/>
<circle cx="263.4" cy="219.1" r="1.5" fill="#f5bf69" stroke="#f5bf69"/>
<circle cx="264.0" cy="182.0" r="1.5" fill="#ff9850" stroke="#ff9850"/>
<circle cx="294.8" cy="322.7" r="1.5" fill="#6afdc0" stroke="#6afdc0"/>
<circle cx="229.1" cy="110.8" r="1.5" fill="#ff3a1d" stroke="#ff3a1d"/>
<circle cx="242.8" cy="95.2" r="1.5" fill="#ff3d1f" stroke="#ff3d1f"/>
<circle cx="221.4" cy="277.7" r="1.5" fill="#24d7df" stroke="#24d7df"/>
<circle cx="247.2" cy="171.7" r="1.5" fill="#ff914c" stroke="#ff914c"/>
<circle cx="169.7" cy="302.8" r="1.5" fill="#1d92f3" stroke="#1d92f3"/>
<circle cx="221.7" cy="92.2" r="1.5" fill="#ff3f20" stroke="#ff3f20"/>
<circle cx="293.5" cy="276.8" r="1.5" fill="#dfd478" stroke="#dfd478"/>
<circle cx="233.0" cy="124.7" r="1.5" fill="#ff572c" stroke="#ff572c"/>
<circle cx="251.7" cy="162.5" r="1.5" fill="#ff914c" stroke="#ff914c"/>
<circle cx="231.5" cy="137.8" r="1.5" fill="#ff723b" stroke="#ff723b"/>
<circle cx="257.3" cy="185.6" r="1.5" fill="#ffa85a" stroke="#ffa85a"/>
<circle cx="280.5" cy="253.9" r="1.5" fill="#d3de80" stroke="#d3de80"/>
<circle cx="257.8" cy="175.6" r="1.5" fill="#ff9f54" stroke="#ff9f54"/>
<circle cx="231.6" cy="163.1" r="1.5" fill="#ff7f42" stroke="#ff7f42"/>
<circle cx="289.2" cy="325.3" r="1.5" fill="#a1faa1" stroke="#a1faa1"/>
<circle cx="283.9" cy="289.0" r="1.5" fill="#a0faa1" stroke="#a0faa1"/>
<circle cx="211.0" cy="362.6" r="1.5" fill="#38e7d7" stroke="#38e7d7"/>
<circle cx="247.6" cy="221.9" r="1.5" fill="#d8da7d" stroke="#d8da7d"/>
<circle cx="291.1" cy="289.5" r="1.5" fill="#a6f89e" stroke="#a6f89e"/>
<circle cx="176.0" cy="337.5" r="1.5" fill="#1b93f3" stroke="#1b93f3"/>
<circle cx="227.8" cy="298.1" r="1.5" fill="#31e2da" stroke="#31e2da"/>
<circle cx="165.5" cy="364.0" r="1.5" fill="#4061fa" stroke="#4061fa"/>
<circle cx="256.0" cy="204.6" r="1.5" fill="#ffb05f" stroke="#ffb05f"/>
<circle cx="263.1" cy="245.9" r="1.5" fill="#a0faa1" stroke="#a0faa1"/>
<circle cx="240.9" cy="174.5" r="1.5" fill="#ff9b52" stroke="#ff9b52"/>
<circle cx="233.6" cy="154.0" r="1.5" fill="#ff8545" stroke="#ff8545"/>
<circle cx="240.1" cy="125.4" r="1.5" fill="#ff4d27" stroke="#ff4d27"/>
<circle cx="235.6" cy="95.0" r="1.5" fill="#ff381c" stroke="#ff381c"/>
<circle cx="249.1" cy="181.4" r="1.5" fill="#ffa156" stroke="#ffa156"/>
<circle cx="240.4" cy="115.6" r="1.5" fill="#ff6f39" stroke="#ff6f39"/>
<circle cx="262.5" cy="200.5" r="1.5" fill="#f7bd68" stroke="#f7bd68"/>
<circle cx="254.7" cy="209.7" r="1.5" fill="#ffb260" stroke="#ffb260"/>
<circle cx="229.2" cy="21.8" r="1.5" fill="#ff2714" stroke="#ff2714"/>
<circle cx="275.1" cy="224.9" r="1.5" fill="#ff9c52" stroke="#ff9c52"/>
<circle cx="255.3" cy="158.9" r="1.5" fill="#ff7f42" stroke="#ff7f42"/>
<circle cx="338.0" cy="290.0" r="1.5" fill="#d1df82" stroke="#d1df82"/>
<circle cx="265.1" cy="245.6" r="1.5" fill="#c9e687" stroke="#c9e687"/>
<circle cx="234.5" cy="103.4" r="1.5" fill="#ff4824" stroke="#ff4824"/>
<circle cx="258.9" cy="269.1" r="1.5" fill="#8afeae" stroke="#8afeae"/>
<circle cx="272.0" cy="240.9" r="1.5" fill="#d0e183" stroke="#d0e183"/>
<circle cx="155.4" cy="459.1" r="1.5" fill="#6031fe" stroke="#6031fe"/>
<circle cx="248.5" cy="315.3" r="1.5" fill="#2bdddd" stroke="#2bdddd"/>
<circle cx="229.2" cy="64.1" r="1.5" fill="#ff2e17" stroke="#ff2e17"/>
<circle cx="235.6" cy="133.0" r="1.5" fill="#ff6433" stroke="#ff6433"/>
<circle cx="239.8" cy="120.5" r="1.5" fill="#ff733b" stroke="#ff733b"/>
<circle cx="275.4" cy="197.4" r="1.5" fill="#ff9c52" stroke="#ff9c52"/>
<circle cx="287.7" cy="225.9" r="1.5" fill="#ffa457" stroke="#ffa457"/>
<circle cx="304.0" cy="294.4" r="1.5" fill="#efc56d" stroke="#efc56d"/>
<circle cx="146.8" cy="318.2" r="1.5" fill="#2982f6" stroke="#2982f6"/>
<circle cx="293.1" cy="232.3" r="1.5" fill="#d4dd80" stroke="#d4dd80"/>
<circle cx="226.1" cy="36.7" r="1.5" fill="#ff2513" stroke="#ff2513"/>
<circle cx="318.1" cy="304.1" r="1.5" fill="#d5dd7f" stroke="#d5dd7f"/>
<circle cx="229.0" cy="142.0" r="1.5" fill="#ff733b" stroke="#ff733b"/>
<circle cx="234.9" cy="367.0" r="1.5" fill="#42edd3" stroke="#42edd3"/>
<circle cx="278.1" cy="300.4" r="1.5" fill="#6ffebd" stroke="#6ffebd"/>
<circle cx="237.3" cy="111.5" r="1.5" fill="#ff4925" stroke="#ff4925"/>
<circle cx="226.2" cy="93.1" r="1.5" fill="#ff743c" stroke="#ff743c"/>
<circle cx="274.5" cy="296.5" r="1.5" fill="#56f7ca" stroke="#56f7ca"/>
<circle cx="287.8" cy="317.8" r="1.5" fill="#87ffb0" stroke="#87ffb0"/>
<circle cx="243.7" cy="218.6" r="1.5" fill="#e4cf75" stroke="#e4cf75"/>
<circle cx="239.2" cy="212.9" r="1.5" fill="#e2d276" stroke="#e2d276"/>
<circle cx="237.2" cy="161.7" r="1.5" fill="#ff8b49" stroke="#ff8b49"/>
<circle cx="227.4" cy="135.8" r="1.5" fill="#ff4322" stroke="#ff4322"/>
<circle cx="188.2" cy="376.4" r="1.5" fill="#4659fb" stroke="#4659fb"/>
<circle cx="273.7" cy="215.9" r="1.5" fill="#ffb05f" stroke="#ffb05f"/>
<circle cx="227.0" cy="114.5" r="1.5" fill="#ff6433" stroke="#ff6433"/>
<circle cx="270.8" cy="242.5" r="1.5" fill="#ddd67a" stroke="#ddd67a"/>
<circle cx="250.3" cy="208.7" r="1.5" fill="#ffb260" stroke="#ffb260"/>
<circle cx="262.1" cy="183.5" r="1.5" fill="#ff9a51" stroke="#ff9a51"/>
<circle cx="187.3" cy="291.5" r="1.5" fill="#0da5ef" stroke="#0da5ef"/>
<circle cx="230.8" cy="96.8" r="1.5" fill="#ff4d27" stroke="#ff4d27"/>
<circle cx="277.9" cy="229.8" r="1.5" fill="#ff9f54" stroke="#ff9f54"/>
<circle cx="270.9" cy="298.8" r="1.5" fill="#72febb" stroke="#72febb"/>
<circle cx="264.5" cy="273.9" r="1.5" fill="#80ffb4" stroke="#80ffb4"/>
<circle cx="285.4" cy="274.3" r="1.5" fill="#c0eb8d" stroke="#c0eb8d"/>
<circle cx="231.1" cy="107.8" r="1.5" fill="#ff6333" stroke="#ff6333"/>
<circle cx="212.2" cy="304.3" r="1.5" fill="#15cae5" stroke="#15cae5"/>
<circle cx="274.9" cy="202.2" r="1.5" fill="#ff9a51" stroke="#ff9a51"/>
<circle cx="234.4" cy="307.1" r="1.5" fill="#38e7d7" stroke="#38e7d7"/>
<circle cx="239.7" cy="97.8" r="1.5" fill="#ff572c" stroke="#ff572c"/>
<circle cx="238.8" cy="347.5" r="1.5" fill="#42edd3" stroke="#42edd3"/>
<circle cx="228.1" cy="129.4" r="1.5" fill="#ff6433" stroke="#ff6433"/>
<circle cx="228.7" cy="147.9" r="1.5" fill="#ff8847" stroke="#ff8847"/>
<circle cx="303.3" cy="288.4" r="1.5" fill="#d3de81" stroke="#d3de81"/>
<circle cx="214.8" cy="323.1" r="1.5" fill="#0cc1e8" stroke="#0cc1e8"/>
<circle cx="172.0" cy="330.2" r="1.5" fill="#2c7df7" stroke="#2c7df7"/>
<circle cx="191.7" cy="316.7" r="1.5" fill="#0da5ef" stroke="#0da5ef"/>
<circle cx="244.3" cy="155.0" r="1.5" fill="#ff6a36" stroke="#ff6a36"/>
<circle cx="266.6" cy="255.2" r="1.5" fill="#84ffb2" stroke="#84ffb2"/>
<circle cx="171.3" cy="324.4" r="1.5" fill="#2883f6" stroke="#2883f6"/>
<circle cx="173.2" cy="331.1" r="1.5" fill="#2b7ff6" stroke="#2b7ff6"/>
<circle cx="268.4" cy="302.3" r="1.5" fill="#46efd1" stroke="#46efd1"/>
<circle cx="230.8" cy="94.1" r="1.5" fill="#ff4020" stroke="#ff4020"/>
<circle cx="291.1" cy="252.6" r="1.5" fill="#d2df81" stroke="#d2df81"/>
<circle cx="258.9" cy="184.2" r="1.5" fill="#ffa256" stroke="#ffa256"/>
<circle cx="161.4" cy="375.5" r="1.5" fill="#3f63fa" stroke="#3f63fa"/>
<circle cx="330.0" cy="268.0" r="1.5" fill="#dbd77b" stroke="#dbd77b"/>
<circle cx="276.9" cy="226.7" r="1.5" fill="#ffb160" stroke="#ffb160"/>
<circle cx="239.3" cy="192.8" r="1.5" fill="#ffab5c" stroke="#ffab5c"/>
<circle cx="239.7" cy="277.7" r="1.5" fill="#52f5cc" stroke="#52f5cc"/>
<circle cx="277.9" cy="238.2" r="1.5" fill="#f4c16a" stroke="#f4c16a"/>
<circle cx="236.9" cy="108.3" r="1.5" fill="#ff562b" stroke="#ff562b"/>
<circle cx="319.8" cy="309.4" r="1.5" fill="#a7f89d" stroke="#a7f89d"/>
<circle cx="305.9" cy="320.2" r="1.5" fill="#c6e889" stroke="#c6e889"/>
<circle cx="237.0" cy="172.1" r="1.5" fill="#ff8c49" stroke="#ff8c49"/>
<circle cx="239.2" cy="44.8" r="1.5" fill="#ff381c" stroke="#ff381c"/>
<circle cx="269.9" cy="231.5" r="1.5" fill="#f7bd67" stroke="#f7bd67"/>
<circle cx="240.9" cy="148.3" r="1.5" fill="#ff8646" stroke="#ff8646"/>
<circle cx="227.6" cy="34.2" r="1.5" fill="#ff2e17" stroke="#ff2e17"/>
<circle cx="108.6" cy="466.5" r="1.5" fill="#642cfe" stroke="#642cfe"/>
<circle cx="232.6" cy="294.2" r="1.5" fill="#43edd3" stroke="#43edd3"/>
<circle cx="247.5" cy="174.4" r="1.5" fill="#ff8d4a" stroke="#ff8d4a"/>
<circle cx="251.9" cy="189.1" r="1.5" fill="#ffa659" stroke="#ffa659"/>
<circle cx="259.6" cy="250.9" r="1.5" fill="#b6f194" stroke="#b6f194"/>
<circle cx="262.6" cy="304.2" r="1.5" fill="#51f5cc" stroke="#51f5cc"/>
<circle cx="231.2" cy="109.3" r="1.5" fill="#ff6534" stroke="#ff6534"/>
<circle cx="246.2" cy="86.6" r="1.5" fill="#ff3f1f" stroke="#ff3f1f"/>
<circle cx="282.7" cy="270.4" r="1.5" fill="#abf69b" stroke="#abf69b"/>
<circle cx="237.5" cy="149.2" r="1.5" fill="#ff793e" stroke="#ff793e"/>
<circle cx="275.8" cy="311.8" r="1.5" fill="#5efac6" stroke="#5efac6"/>
<circle cx="271.5" cy="309.8" r="1.5" fill="#5df9c6" stroke="#5df9c6"/>
<circle cx="230.8" cy="155.4" r="1.5" fill="#ff6031" stroke="#ff6031"/>
<circle cx="230.3" cy="103.3" r="1.5" fill="#ff5a2e" stroke="#ff5a2e"/>
<circle cx="291.4" cy="265.2" r="1.5" fill="#c6e789" stroke="#c6e789"/>
<circle cx="198.8" cy="320.8" r="1.5" fill="#03b1ec" stroke="#03b1ec"/>
<circle cx="268.4" cy="223.9" r="1.5" fill="#ffac5c" stroke="#ffac5c"/>
<circle cx="297.5" cy="355.2" r="1.5" fill="#58f7c9" stroke="#58f7c9"/>
<circle cx="254.2" cy="223.5" r="1.5" fill="#cbe486" stroke="#cbe486"/>
<circle cx="237.3" cy="145.6" r="1.5" fill="#ff904b" stroke="#ff904b"/>
<circle cx="258.3" cy="199.2" r="1.5" fill="#ffa85a" stroke="#ffa85a"/>
<circle cx="338.4" cy="306.6" r="1.5" fill="#b1f397" stroke="#b1f397"/>
<circle cx="265.2" cy="187.5" r="1.5" fill="#ffa256" stroke="#ffa256"/>
<circle cx="242.3" cy="53.5" r="1.5" fill="#ff1d0e" stroke="#ff1d0e"/>
<circle cx="241.2" cy="101.4" r="1.5" fill="#ff5b2e" stroke="#ff5b2e"/>
<circle cx="309.5" cy="302.3" r="1.5" fill="#c2ea8c" stroke="#c2ea8c"/>
<circle cx="271.6" cy="331.9" r="1.5" fill="#24d8df" stroke="#24d8df"/>
<circle cx="228.5" cy="234.0" r="1.5" fill="#29dbde" stroke="#29dbde"/>
<circle cx="302.9" cy="350.9" r="1.5" fill="#41ecd4" stroke="#41ecd4"/>
<circle cx="225.9" cy="82.0" r="1.5" fill="#ff4221" stroke="#ff4221"/>
<circle cx="251.6" cy="169.9" r="1.5" fill="#ff7f42" stroke="#ff7f42"/>
<circle cx="239.8" cy="145.3" r="1.5" fill="#ff8b48" stroke="#ff8b48"/>
<circle cx="239.2" cy="190.9" r="1.5" fill="#ffa357" stroke="#ffa357"/>
<circle cx="260.1" cy="124.3" r="1.5" fill="#ff753c" stroke="#ff753c"/>
<circle cx="227.2" cy="143.5" r="1.5" fill="#ff5e30" stroke="#ff5e30"/>
<circle cx="273.5" cy="288.5" r="1.5" fill="#7bffb7" stroke="#7bffb7"/>
<circle cx="299.0" cy="320.1" r="1.5" fill="#86ffb1" stroke="#86ffb1"/>
<circle cx="276.8" cy="207.6" r="1.5" fill="#ebc970" stroke="#ebc970"/>
<circle cx="246.0" cy="181.9" r="1.5" fill="#ff9d53" stroke="#ff9d53"/>
<circle cx="242.8" cy="160.4" r="1.5" fill="#ff8746" stroke="#ff8746"/>
<circle cx="261.2" cy="298.7" r="1.5" fill="#69fdc0" stroke="#69fdc0"/>
<circle cx="257.2" cy="199.1" r="1.5" fill="#ff954e" stroke="#ff954e"/>
<circle cx="224.0" cy="126.8" r="1.5" fill="#ff7a3f" stroke="#ff7a3f"/>
<circle cx="251.6" cy="105.2" r="1.5" fill="#ff572c" stroke="#ff572c"/>
<circle cx="205.1" cy="316.4" r="1.5" fill="#0dc2e8" stroke="#0dc2e8"/>
<circle cx="293.7" cy="271.1" r="1.5" fill="#f0c46c" stroke="#f0c46c"/>
<circle cx="260.2" cy="218.1" r="1.5" fill="#eaca71" stroke="#eaca71"/>
<circle cx="317.3" cy="357.2" r="1.5" fill="#46efd1" stroke="#46efd1"/>
<circle cx="265.5" cy="376.4" r="1.5" fill="#57f7c9" stroke="#57f7c9"/>
<circle cx="262.9" cy="137.8" r="1.5" fill="#ff743c" stroke="#ff743c"/>
<circle cx="173.5" cy="337.0" r="1.5" fill="#3b68f9" stroke="#3b68f9"/>
<circle cx="248.9" cy="138.3" r="1.5" fill="#ff4f28" stroke="#ff4f28"/>
<circle cx="295.3" cy="327.9" r="1.5" fill="#85ffb1" stroke="#85ffb1"/>
<circle cx="259.0" cy="215.0" r="1.5" fill="#ecc86f" stroke="#ecc86f"/>
<circle cx="275.8" cy="214.4" r="1.5" fill="#fdb663" stroke="#fdb663"/>
<circle cx="203.7" cy="352.1" r="1.5" fill="#2e7af7" stroke="#2e7af7"/>
<circle cx="228.9" cy="100.4" r="1.5" fill="#ff6031" stroke="#ff6031"/>
<circle cx="195.0" cy="17.1" r="1.5" fill="#ff7b3f" stroke="#ff7b3f"/>
<circle cx="259.6" cy="220.4" r="1.5" fill="#d6db7e" stroke="#d6db7e"/>
<circle cx="146.8" cy="438.2" r="1.5" fill="#4c4ffc" stroke="#4c4ffc"/>
<circle cx="276.3" cy="294.5" r="1.5" fill="#89ffaf" stroke="#89ffaf"/>
<circle cx="246.2" cy="123.9" r="1.5" fill="#ff6433" stroke="#ff6433"/>
<circle cx="190.0" cy="307.5" r="1.5" fill="#0bc0e8" stroke="#0bc0e8"/>
<circle cx="244.4" cy="168.5" r="1.5" fill="#ff9850" stroke="#ff9850"/>
<circle cx="330.0" cy="352.0" r="1.5" fill="#6bfdbf" stroke="#6bfdbf"/>
<circle cx="283.4" cy="242.3" r="1.5" fill="#bded8f" stroke="#bded8f"/>
<circle cx="254.4" cy="194.4" r="1.5" fill="#ff914c" stroke="#ff914c"/>
<circle cx="257.6" cy="240.7" r="1.5" fill="#a6f89e" stroke="#a6f89e"/>
<circle cx="144.5" cy="392.8" r="1.5" fill="#4f4bfc" stroke="#4f4bfc"/>
<circle cx="178.4" cy="311.0" r="1.5" fill="#218df4" stroke="#218df4"/>
<circle cx="284.1" cy="260.9" r="1.5" fill="#f8bb66" stroke="#f8bb66"/>
<circle cx="256.9" cy="319.0" r="1.5" fill="#43eed2" stroke="#43eed2"/>
<circle cx="258.2" cy="189.9" r="1.5" fill="#ffb15f" stroke="#ffb15f"/>
<circle cx="245.0" cy="166.4" r="1.5" fill="#ff733b" stroke="#ff733b"/>
<circle cx="231.1" cy="97.8" r="1.5" fill="#ff532a" stroke="#ff532a"/>
<circle cx="221.4" cy="14.0" r="1.5" fill="#ff1e0f" stroke="#ff1e0f"/>
<circle cx="249.0" cy="190.6" r="1.5" fill="#f8bc67" stroke="#f8bc67"/>
<circle cx="256.6" cy="165.2" r="1.5" fill="#ff8043" stroke="#ff8043"/>
<circle cx="229.7" cy="176.5" r="1.5" fill="#ff9f54" stroke="#ff9f54"/>
<circle cx="280.3" cy="311.5" r="1.5" fill="#3be8d6" stroke="#3be8d6"/>
<circle cx="255.6" cy="291.4" r="1.5" fill="#3febd4" stroke="#3febd4"/>
<circle cx="145.6" cy="94.2" r="1.5" fill="#ff8947" stroke="#ff8947"/>
<circle cx="253.3" cy="166.1" r="1.5" fill="#ff934d" stroke="#ff934d"/>
<circle cx="240.2" cy="166.6" r="1.5" fill="#ff8646" stroke="#ff8646"/>
<circle cx="227.9" cy="96.8" r="1.5" fill="#ff6232" stroke="#ff6232"/>
<circle cx="222.3" cy="203.3" r="1.5" fill="#ffb461" stroke="#ffb461"/>
<circle cx="235.9" cy="148.0" r="1.5" fill="#ff6a36" stroke="#ff6a36"/>
<circle cx="197.1" cy="313.4" r="1.5" fill="#10a2f0" stroke="#10a2f0"/>
<circle cx="280.6" cy="290.9" r="1.5" fill="#94fda8" stroke="#94fda8"/>
<circle cx="212.8" cy="159.0" r="1.5" fill="#ff5b2e" stroke="#ff5b2e"/>
<circle cx="227.0" cy="91.6" r="1.5" fill="#ff592d" stroke="#ff592d"/>
<circle cx="178.0" cy="324.8" r="1.5" fill="#2a80f6" stroke="#2a80f6"/>
<circle cx="231.3" cy="117.2" r="1.5" fill="#ff5029" stroke="#ff5029"/>
<circle cx="246.8" cy="226.3" r="1.5" fill="#c6e789" stroke="#c6e789"/>
<circle cx="219.4" cy="111.1" r="1.5" fill="#ff6936" stroke="#ff6936"/>
<circle cx="299.2" cy="318.6" r="1.5" fill="#8bfeae" stroke="#8bfeae"/>
<circle cx="227.4" cy="112.9" r="1.5" fill="#ff572c" stroke="#ff572c"/>
<circle cx="220.3" cy="80.3" r="1.5" fill="#ff4222" stroke="#ff4222"/>
<circle cx="262.3" cy="238.7" r="1.5" fill="#c0eb8d" stroke="#c0eb8d"/>
<circle cx="248.4" cy="150.1" r="1.5" fill="#ff723b" stroke="#ff723b"/>
<circle cx="228.7" cy="102.2" r="1.5" fill="#ff6735" stroke="#ff6735"/>
<circle cx="235.6" cy="158.5" r="1.5" fill="#ff6e38" stroke="#ff6e38"/>
<circle cx="243.3" cy="176.1" r="1.5" fill="#ff7e41" stroke="#ff7e41"/>
<circle cx="271.9" cy="291.5" r="1.5" fill="#81ffb3" stroke="#81ffb3"/>
<circle cx="269.6" cy="252.1" r="1.5" fill="#aff498" stroke="#aff498"/>
<circle cx="227.1" cy="148.5" r="1.5" fill="#ff7d40" stroke="#ff7d40"/>
<circle cx="227.4" cy="124.5" r="1.5" fill="#ff6936" stroke="#ff6936"/>
<circle cx="276.5" cy="191.5" r="1.5" fill="#ff8b48" stroke="#ff8b48"/>
<circle cx="232.1" cy="137.0" r="1.5" fill="#ff5c2f" stroke="#ff5c2f"/>
<circle cx="239.0" cy="171.7" r="1.5" fill="#ffa256" stroke="#ffa256"/>
<circle cx="140.1" cy="418.7" r="1.5" fill="#4e4dfc" stroke="#4e4dfc"/>
<circle cx="232.4" cy="142.8" r="1.5" fill="#ff6031" stroke="#ff6031"/>
<circle cx="203.0" cy="103.0" r="1.5" fill="#ff4f28" stroke="#ff4f28"/>
<circle cx="238.2" cy="138.9" r="1.5" fill="#ff8b49" stroke="#ff8b49"/>
<circle cx="191.0" cy="442.4" r="1.5" fill="#6130fe" stroke="#6130fe"/>
<circle cx="279.0" cy="181.7" r="1.5" fill="#ff904b" stroke="#ff904b"/>
<circle cx="162.8" cy="361.7" r="1.5" fill="#3275f8" stroke="#3275f8"/>
<circle cx="231.4" cy="110.6" r="1.5" fill="#ff4824" stroke="#ff4824"/>
<circle cx="277.6" cy="239.5" r="1.5" fill="#e5cf74" stroke="#e5cf74"/>
<circle cx="307.1" cy="299.2" r="1.5" fill="#92fdaa" stroke="#92fdaa"/>
<circle cx="245.7" cy="172.9" r="1.5" fill="#ff8545" stroke="#ff8545"/>
<circle cx="228.2" cy="297.7" r="1.5" fill="#2edfdc" stroke="#2edfdc"/>
<circle cx="266.0" cy="214.1" r="1.5" fill="#edc76e" stroke="#edc76e"/>
<circle cx="225.5" cy="257.2" r="1.5" fill="#2adddd" stroke="#2adddd"/>
<circle cx="292.1" cy="204.5" r="1.5" fill="#ffa457" stroke="#ffa457"/>
<circle cx="304.4" cy="284.2" r="1.5" fill="#d7db7e" stroke="#d7db7e"/>
<circle cx="254.0" cy="204.2" r="1.5" fill="#ffaa5b" stroke="#ffaa5b"/>
<circle cx="176.0" cy="345.0" r="1.5" fill="#12a0f1" stroke="#12a0f1"/>
<circle cx="263.1" cy="318.3" r="1.5" fill="#2ddfdc" stroke="#2ddfdc"/>
<circle cx="243.4" cy="134.5" r="1.5" fill="#ff8043" stroke="#ff8043"/>
<circle cx="133.5" cy="366.1" r="1.5" fill="#3e64fa" stroke="#3e64fa"/>
<circle cx="227.9" cy="120.7" r="1.5" fill="#ff542a" stroke="#ff542a"/>
<circle cx="227.3" cy="91.0" r="1.5" fill="#ff4422" stroke="#ff4422"/>
<circle cx="253.9" cy="200.7" r="1.5" fill="#ffaa5b" stroke="#ffaa5b"/>
<circle cx="271.4" cy="205.6" r="1.5" fill="#fcb864" stroke="#fcb864"/>
<circle cx="281.3" cy="257.8" r="1.5" fill="#d1e082" stroke="#d1e082"/>
<circle cx="250.3" cy="175.3" r="1.5" fill="#ff6835" stroke="#ff6835"/>
<circle cx="241.8" cy="272.9" r="1.5" fill="#46efd1" stroke="#46efd1"/>
<circle cx="229.2" cy="322.4" r="1.5" fill="#2bdddd" stroke="#2bdddd"/>
<circle cx="258.3" cy="158.9" r="1.5" fill="#ff8244" stroke="#ff8244"/>
<circle cx="231.1" cy="31.1" r="1.5" fill="#ff1f10" stroke="#ff1f10"/>
<circle cx="262.9" cy="240.9" r="1.5" fill="#b7f093" stroke="#b7f093"/>
<circle cx="277.9" cy="267.3" r="1.5" fill="#a8f79d" stroke="#a8f79d"/>
<circle cx="256.6" cy="205.7" r="1.5" fill="#e8cc72" stroke="#e8cc72"/>
<circle cx="227.2" cy="87.6" r="1.5" fill="#ff4423" stroke="#ff4423"/>
<circle cx="260.6" cy="222.3" r="1.5" fill="#f1c36c" stroke="#f1c36c"/>
<circle cx="262.5" cy="238.2" r="1.5" fill="#9dfba3" stroke="#9dfba3"/>
<circle cx="231.7" cy="61.6" r="1.5" fill="#ff2c16" stroke="#ff2c16"/>
<circle cx="227.4" cy="112.2" r="1.5" fill="#ff391d" stroke="#ff391d"/>
<circle cx="229.8" cy="56.0" r="1.5" fill="#ff2010" stroke="#ff2010"/>
<circle cx="174.0" cy="363.4" r="1.5" fill="#3b69f9" stroke="#3b69f9"/>
<circle cx="248.1" cy="168.9" r="1.5" fill="#ff8d4a" stroke="#ff8d4a"/>
<circle cx="244.6" cy="187.1" r="1.5" fill="#ff914c" stroke="#ff914c"/>
<circle cx="245.7" cy="143.3" r="1.5" fill="#ff6835" stroke="#ff6835"/>
<circle cx="176.1" cy="369.3" r="1.5" fill="#2f79f7" stroke="#2f79f7"/>
<circle cx="274.2" cy="199.6" r="1.5" fill="#ff9a51" stroke="#ff9a51"/>
<circle cx="223.0" cy="47.3" r="1.5" fill="#ff2915" stroke="#ff2915"/>
<circle cx="251.1" cy="140.5" r="1.5" fill="#ff552b" stroke="#ff552b"/>
<circle cx="235.2" cy="110.5" r="1.5" fill="#ff6132" stroke="#ff6132"/>
<circle cx="236.6" cy="111.7" r="1.5" fill="#ff351b" stroke="#ff351b"/>
<circle cx="228.9" cy="123.3" r="1.5" fill="#ff713a" stroke="#ff713a"/>
<circle cx="291.9" cy="267.6" r="1.5" fill="#e4d075" stroke="#e4d075"/>
<circle cx="268.3" cy="224.7" r="1.5" fill="#ffad5d" stroke="#ffad5d"/>
<circle cx="268.1" cy="176.1" r="1.5" fill="#ffac5d" stroke="#ffac5d"/>
<circle cx="312.4" cy="377.3" r="1.5" fill="#66fcc2" stroke="#66fcc2"/>
<circle cx="240.0" cy="161.7" r="1.5" fill="#ff713a" stroke="#ff713a"/>
<circle cx="223.6" cy="87.3" r="1.5" fill="#ff5e30" stroke="#ff5e30"/>
<circle cx="275.0" cy="276.1" r="1.5" fill="#a9f79c" stroke="#a9f79c"/>
<circle cx="246.2" cy="121.5" r="1.5" fill="#ff3d1f" stroke="#ff3d1f"/>
<circle cx="255.7" cy="151.5" r="1.5" fill="#ff6433" stroke="#ff6433"/>
<circle cx="239.7" cy="117.9" r="1.5" fill="#ff783e" stroke="#ff783e"/>
<circle cx="229.5" cy="116.9" r="1.5" fill="#ff4322" stroke="#ff4322"/>
<circle cx="259.2" cy="205.7" r="1.5" fill="#ffa659" stroke="#ffa659"/>
<circle cx="280.8" cy="279.5" r="1.5" fill="#bfec8e" stroke="#bfec8e"/>
<circle cx="259.4" cy="213.0" r="1.5" fill="#ffb15f" stroke="#ffb15f"/>
<circle cx="248.2" cy="181.1" r="1.5" fill="#ff9b52" stroke="#ff9b52"/>
<circle cx="272.1" cy="275.2" r="1.5" fill="#b9ef92" stroke="#b9ef92"/>
<circle cx="263.9" cy="248.3" r="1.5" fill="#98fca6" stroke="#98fca6"/>
<circle cx="236.2" cy="162.9" r="1.5" fill="#ff8e4a" stroke="#ff8e4a"/>
<circle cx="259.0" cy="227.7" r="1.5" fill="#cae587" stroke="#cae587"/>
<circle cx="241.6" cy="142.0" r="1.5" fill="#ff8746" stroke="#ff8746"/>
<circle cx="224.1" cy="318.0" r="1.5" fill="#19cee3" stroke="#19cee3"/>
<circle cx="255.6" cy="169.8" r="1.5" fill="#ff753c" stroke="#ff753c"/>
<circle cx="242.8" cy="157.6" r="1.5" fill="#ff7b40" stroke="#ff7b40"/>
<circle cx="272.7" cy="254.4" r="1.5" fill="#99fca6" stroke="#99fca6"/>
<circle cx="238.3" cy="288.3" r="1.5" fill="#4af1cf" stroke="#4af1cf"/>
<circle cx="234.6" cy="142.7" r="1.5" fill="#ff8243" stroke="#ff8243"/>
<circle cx="237.5" cy="152.5" r="1.5" fill="#ff7c40" stroke="#ff7c40"/>
<circle cx="273.9" cy="283.5" r="1.5" fill="#88ffaf" stroke="#88ffaf"/>
<circle cx="272.8" cy="224.8" r="1.5" fill="#f1c36c" stroke="#f1c36c"/>
<circle cx="233.0" cy="181.3" r="1.5" fill="#ff954e" stroke="#ff954e"/>
<circle cx="207.7" cy="76.5" r="1.5" fill="#ff4c26" stroke="#ff4c26"/>
<circle cx="234.0" cy="108.2" r="1.5" fill="#ff4c26" stroke="#ff4c26"/>
</g></g>
<g stroke="#000" stroke-width="1.8">
<circle cx="202.0" cy="50.1" r="4.05" fill="#1f9bee"/>
<circle cx="233.0" cy="80.6" r="4.05" fill="#1f9bee"/>
<circle cx="235.5" cy="86.6" r="4.05" fill="#1f9bee"/>
<circle cx="276.3" cy="80.4" r="4.05" fill="#1f9bee"/>
<circle cx="264.6" cy="91.6" r="4.05" fill="#1f9bee"/>
<circle cx="274.8" cy="93.1" r="4.05" fill="#1f9bee"/>
<circle cx="242.2" cy="136.4" r="4.05" fill="#1f9bee"/>
<circle cx="294.4" cy="147.5" r="4.05" fill="#1f9bee"/>
<circle cx="232.2" cy="165.4" r="4.05" fill="#1f9bee"/>
<circle cx="271.0" cy="184.8" r="4.05" fill="#1f9bee"/>
<circle cx="256.9" cy="198.5" r="4.05" fill="#1f9bee"/>
<circle cx="265.8" cy="206.5" r="4.05" fill="#1f9bee"/>
<circle cx="269.6" cy="262.9" r="4.05" fill="#1f9bee"/>
<circle cx="314.6" cy="302.9" r="4.05" fill="#1f9bee"/>
<circle cx="278.5" cy="311.6" r="4.05" fill="#1f9bee"/>
<circle cx="241.4" cy="321.8" r="4.05" fill="#1f9bee"/>
<circle cx="265.8" cy="335.2" r="4.05" fill="#1f9bee"/>
<circle cx="268.6" cy="330.0" r="4.05" fill="#1f9bee"/>
<circle cx="385.3" cy="362.4" r="4.05" fill="#1f9bee"/>
<circle cx="323.5" cy="373.7" r="4.05" fill="#f01414"/>
<circle cx="328.2" cy="362.8" r="4.05" fill="#f01414"/>
<circle cx="329.2" cy="373.0" r="4.05" fill="#f01414"/>
<circle cx="349.9" cy="434.4" r="4.05" fill="#f01414"/>
<circle cx="326.9" cy="452.7" r="4.05" fill="#f01414"/>
</g>
<path d="M85.59 500.15 v-5.4 M85.59 10.4 v5.4 M98.75 500.15 v-10.8 M98.75 10.4 v10.8 M111.91 500.15 v-5.4 M111.91 10.4 v5.4 M125.07 500.15 v-5.4 M125.07 10.4 v5.4 M138.23 500.15 v-5.4 M138.23 10.4 v5.4 M151.39 500.15 v-5.4 M151.39 10.4 v5.4 M164.55 500.15 v-10.8 M164.55 10.4 v10.8 M177.71 500.15 v-5.4 M177.71 10.4 v5.4 M190.87 500.15 v-5.4 M190.87 10.4 v5.4 M204.03 500.15 v-5.4 M204.03 10.4 v5.4 M217.19 500.15 v-5.4 M217.19 10.4 v5.4 M230.35 500.15 v-10.8 M230.35 10.4 v10.8 M243.51 500.15 v-5.4 M243.51 10.4 v5.4 M256.67 500.15 v-5.4 M256.67 10.4 v5.4 M269.83 500.15 v-5.4 M269.83 10.4 v5.4 M282.99 500.15 v-5.4 M282.99 10.4 v5.4 M296.15 500.15 v-10.8 M296.15 10.4 v10.8 M309.31 500.15 v-5.4 M309.31 10.4 v5.4 M322.47 500.15 v-5.4 M322.47 10.4 v5.4 M335.63 500.15 v-5.4 M335.63 10.4 v5.4 M348.79 500.15 v-5.4 M348.79 10.4 v5.4 M361.95 500.15 v-10.8 M361.95 10.4 v10.8 M375.11 500.15 v-5.4 M375.11 10.4 v5.4 M388.27 500.15 v-5.4 M388.27 10.4 v5.4 M401.43 500.15 v-5.4 M401.43 10.4 v5.4 M414.59 500.15 v-5.4 M414.59 10.4 v5.4 M427.75 500.15 v-10.8 M427.75 10.4 v10.8 M440.91 500.15 v-5.4 M440.91 10.4 v5.4 M454.07 500.15 v-5.4 M454.07 10.4 v5.4 M467.23 500.15 v-5.4 M467.23 10.4 v5.4 M82.0 35.92 h5.4 M474.7 35.92 h-5.4 M82.0 61.71 h5.4 M474.7 61.71 h-5.4 M82.0 87.50 h10.8 M474.7 87.50 h-10.8 M82.0 113.29 h5.4 M474.7 113.29 h-5.4 M82.0 139.08 h5.4 M474.7 139.08 h-5.4 M82.0 164.87 h5.4 M474.7 164.87 h-5.4 M82.0 190.66 h10.8 M474.7 190.66 h-10.8 M82.0 216.45 h5.4 M474.7 216.45 h-5.4 M82.0 242.24 h5.4 M474.7 242.24 h-5.4 M82.0 268.03 h5.4 M474.7 268.03 h-5.4 M82.0 293.82 h10.8 M474.7 293.82 h-10.8 M82.0 319.61 h5.4 M474.7 319.61 h-5.4 M82.0 345.40 h5.4 M474.7 345.40 h-5.4 M82.0 371.19 h5.4 M474.7 371.19 h-5.4 M82.0 396.98 h10.8 M474.7 396.98 h-10.8 M82.0 422.77 h5.4 M474.7 422.77 h-5.4 M82.0 448.56 h5.4 M474.7 448.56 h-5.4 M82.0 474.35 h5.4 M474.7 474.35 h-5.4 M82.0 500.14 h10.8 M474.7 500.14 h-10.8" stroke="#000" stroke-width="1.25" fill="none"/>
<rect x="82.0" y="10.4" width="392.70" height="489.75" fill="none" stroke="#000" stroke-width="1.5"/>
<g font-size="27px">
<text x="98.8" y="524.7" text-anchor="middle">−1</text>
<text x="164.6" y="524.7" text-anchor="middle">0</text>
<text x="230.4" y="524.7" text-anchor="middle">1</text>
<text x="296.1" y="524.7" text-anchor="middle">2</text>
<text x="361.9" y="524.7" text-anchor="middle">3</text>
<text x="427.8" y="524.7" text-anchor="middle">4</text>
<text x="77.3" y="97.4" text-anchor="end">10</text>
<text x="77.3" y="200.6" text-anchor="end">12</text>
<text x="77.3" y="303.7" text-anchor="end">14</text>
<text x="77.3" y="406.9" text-anchor="end">16</text>
<text x="77.3" y="510.0" text-anchor="end">18</text>
</g>
<g font-size="35.6px" font-style="italic" class="dv">
<text x="239.1" y="562.1">J</text><text x="256.3" y="562.1" font-style="normal">−</text><text x="292.7" y="562.1">K</text>
<g transform="translate(28.2,275.5) rotate(-90)"><text x="0" y="0">M</text><text x="30.6" y="6" font-size="24.9px">J</text></g>
</g>
<rect x="498.7" y="10.4" width="24.80" height="489.75" fill="url(#cb)"/>
<path d="M523.5 29.99 h-5.6 M523.5 49.58 h-5.6 M523.5 69.17 h-5.6 M523.5 88.76 h-5.6 M523.5 108.35 h-11 M523.5 127.94 h-5.6 M523.5 147.53 h-5.6 M523.5 167.12 h-5.6 M523.5 186.71 h-5.6 M523.5 206.30 h-11 M523.5 225.89 h-5.6 M523.5 245.48 h-5.6 M523.5 265.07 h-5.6 M523.5 284.66 h-5.6 M523.5 304.25 h-11 M523.5 323.84 h-5.6 M523.5 343.43 h-5.6 M523.5 363.02 h-5.6 M523.5 382.61 h-5.6 M523.5 402.20 h-11 M523.5 421.79 h-5.6 M523.5 441.38 h-5.6 M523.5 460.97 h-5.6 M523.5 480.56 h-5.6" stroke="#000" stroke-width="1.3" fill="none"/>
<rect x="498.7" y="10.4" width="24.80" height="489.75" fill="none" stroke="#000" stroke-width="1.35"/>
<g font-size="24px">
<text x="528.8" y="18.7">M5</text>
<text x="528.8" y="116.7">L0</text>
<text x="528.8" y="214.6">L5</text>
<text x="528.8" y="312.6">T0</text>
<text x="528.8" y="410.5">T5</text>
<text x="528.8" y="508.4">Y0</text>
</g>
</svg></body></html>
